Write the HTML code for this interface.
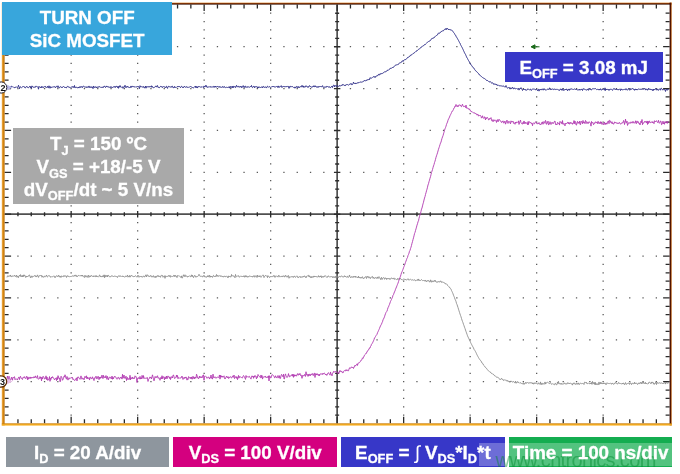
<!DOCTYPE html>
<html><head><meta charset="utf-8"><title>Turn off SiC MOSFET</title>
<style>
html,body{margin:0;padding:0;background:#fff;}
body{width:680px;height:474px;position:relative;overflow:hidden;font-family:"Liberation Sans",sans-serif;}
.box{position:absolute;color:#fff;font-weight:bold;font-size:18.8px;text-align:center;white-space:nowrap;box-sizing:border-box;-webkit-text-stroke:0.3px #fff;}
.box sub{font-size:12.8px;vertical-align:baseline;position:relative;top:4.5px;line-height:0;}
.ln{z-index:3;position:absolute;left:0;right:0;text-align:center;line-height:20px;height:20px;}
#title{left:2px;top:2.1px;width:170.4px;height:52.6px;background:#38a6dc;}
#cond{left:13.2px;top:128.2px;width:170.6px;height:75.8px;background:#a9a9a9;}
#eoff{left:504.8px;top:51.8px;width:157.9px;height:29.9px;background:#3737c8;}
#b1{left:5.8px;top:436.8px;width:163.6px;height:30.3px;background:#8e969e;}
#b2{left:173.4px;top:436.8px;width:163.7px;height:30.3px;background:#d4007f;}
#b3{left:341.2px;top:436.8px;width:163.4px;height:30.3px;background:#3737c8;}
#b4{left:509px;top:436.8px;width:163.3px;height:30.3px;background:#14ad50;}
#wmband{z-index:1;position:absolute;left:479.3px;top:443px;width:193px;height:23.3px;background:rgba(255,255,255,0.27);}
#wm{z-index:2;position:absolute;left:495.6px;top:446.6px;width:178px;height:26px;line-height:26px;font-size:20px;color:rgba(0,135,45,0.45);white-space:nowrap;letter-spacing:-0.65px;}
.mk{position:absolute;font-size:9px;font-weight:bold;color:#111;line-height:10px;}
</style></head><body>
<svg width="680" height="474" viewBox="0 0 680 474" style="position:absolute;left:0;top:0">
<defs>
<linearGradient id="gt" x1="0" y1="0" x2="0" y2="1"><stop offset="0" stop-color="#dc9040"/><stop offset="0.38" stop-color="#8a3806"/><stop offset="1" stop-color="#2a0800"/></linearGradient>
<linearGradient id="gl" x1="0" y1="0" x2="1" y2="0"><stop offset="0" stop-color="#f0b050"/><stop offset="0.5" stop-color="#d98a14"/><stop offset="1" stop-color="#b86a00"/></linearGradient>
<linearGradient id="gr" x1="0" y1="0" x2="1" y2="0"><stop offset="0" stop-color="#360600"/><stop offset="0.6" stop-color="#5e1a00"/><stop offset="1" stop-color="#e89a48"/></linearGradient>
<linearGradient id="gb" x1="0" y1="0" x2="0" y2="1"><stop offset="0" stop-color="#c88010"/><stop offset="0.5" stop-color="#f0a820"/><stop offset="1" stop-color="#ffd070"/></linearGradient>
</defs>
<rect width="680" height="474" fill="#fff"/>
<path d="M70.50 13.22h1.3M70.50 21.60h1.3M70.50 29.97h1.3M70.50 38.35h1.3M70.50 46.72h1.3M70.50 55.09h1.3M70.50 63.47h1.3M70.50 71.84h1.3M70.50 80.22h1.3M70.50 88.59h1.3M70.50 96.96h1.3M70.50 105.34h1.3M70.50 113.71h1.3M70.50 122.09h1.3M70.50 130.46h1.3M70.50 138.83h1.3M70.50 147.21h1.3M70.50 155.58h1.3M70.50 163.96h1.3M70.50 172.33h1.3M70.50 180.70h1.3M70.50 189.08h1.3M70.50 197.45h1.3M70.50 205.83h1.3M70.50 214.20h1.3M70.50 222.57h1.3M70.50 230.95h1.3M70.50 239.32h1.3M70.50 247.70h1.3M70.50 256.07h1.3M70.50 264.44h1.3M70.50 272.82h1.3M70.50 281.19h1.3M70.50 289.57h1.3M70.50 297.94h1.3M70.50 306.31h1.3M70.50 314.69h1.3M70.50 323.06h1.3M70.50 331.44h1.3M70.50 339.81h1.3M70.50 348.18h1.3M70.50 356.56h1.3M70.50 364.93h1.3M70.50 373.31h1.3M70.50 381.68h1.3M70.50 390.05h1.3M70.50 398.43h1.3M70.50 406.80h1.3M70.50 415.18h1.3M137.00 13.22h1.3M137.00 21.60h1.3M137.00 29.97h1.3M137.00 38.35h1.3M137.00 46.72h1.3M137.00 55.09h1.3M137.00 63.47h1.3M137.00 71.84h1.3M137.00 80.22h1.3M137.00 88.59h1.3M137.00 96.96h1.3M137.00 105.34h1.3M137.00 113.71h1.3M137.00 122.09h1.3M137.00 130.46h1.3M137.00 138.83h1.3M137.00 147.21h1.3M137.00 155.58h1.3M137.00 163.96h1.3M137.00 172.33h1.3M137.00 180.70h1.3M137.00 189.08h1.3M137.00 197.45h1.3M137.00 205.83h1.3M137.00 214.20h1.3M137.00 222.57h1.3M137.00 230.95h1.3M137.00 239.32h1.3M137.00 247.70h1.3M137.00 256.07h1.3M137.00 264.44h1.3M137.00 272.82h1.3M137.00 281.19h1.3M137.00 289.57h1.3M137.00 297.94h1.3M137.00 306.31h1.3M137.00 314.69h1.3M137.00 323.06h1.3M137.00 331.44h1.3M137.00 339.81h1.3M137.00 348.18h1.3M137.00 356.56h1.3M137.00 364.93h1.3M137.00 373.31h1.3M137.00 381.68h1.3M137.00 390.05h1.3M137.00 398.43h1.3M137.00 406.80h1.3M137.00 415.18h1.3M203.50 13.22h1.3M203.50 21.60h1.3M203.50 29.97h1.3M203.50 38.35h1.3M203.50 46.72h1.3M203.50 55.09h1.3M203.50 63.47h1.3M203.50 71.84h1.3M203.50 80.22h1.3M203.50 88.59h1.3M203.50 96.96h1.3M203.50 105.34h1.3M203.50 113.71h1.3M203.50 122.09h1.3M203.50 130.46h1.3M203.50 138.83h1.3M203.50 147.21h1.3M203.50 155.58h1.3M203.50 163.96h1.3M203.50 172.33h1.3M203.50 180.70h1.3M203.50 189.08h1.3M203.50 197.45h1.3M203.50 205.83h1.3M203.50 214.20h1.3M203.50 222.57h1.3M203.50 230.95h1.3M203.50 239.32h1.3M203.50 247.70h1.3M203.50 256.07h1.3M203.50 264.44h1.3M203.50 272.82h1.3M203.50 281.19h1.3M203.50 289.57h1.3M203.50 297.94h1.3M203.50 306.31h1.3M203.50 314.69h1.3M203.50 323.06h1.3M203.50 331.44h1.3M203.50 339.81h1.3M203.50 348.18h1.3M203.50 356.56h1.3M203.50 364.93h1.3M203.50 373.31h1.3M203.50 381.68h1.3M203.50 390.05h1.3M203.50 398.43h1.3M203.50 406.80h1.3M203.50 415.18h1.3M270.00 13.22h1.3M270.00 21.60h1.3M270.00 29.97h1.3M270.00 38.35h1.3M270.00 46.72h1.3M270.00 55.09h1.3M270.00 63.47h1.3M270.00 71.84h1.3M270.00 80.22h1.3M270.00 88.59h1.3M270.00 96.96h1.3M270.00 105.34h1.3M270.00 113.71h1.3M270.00 122.09h1.3M270.00 130.46h1.3M270.00 138.83h1.3M270.00 147.21h1.3M270.00 155.58h1.3M270.00 163.96h1.3M270.00 172.33h1.3M270.00 180.70h1.3M270.00 189.08h1.3M270.00 197.45h1.3M270.00 205.83h1.3M270.00 214.20h1.3M270.00 222.57h1.3M270.00 230.95h1.3M270.00 239.32h1.3M270.00 247.70h1.3M270.00 256.07h1.3M270.00 264.44h1.3M270.00 272.82h1.3M270.00 281.19h1.3M270.00 289.57h1.3M270.00 297.94h1.3M270.00 306.31h1.3M270.00 314.69h1.3M270.00 323.06h1.3M270.00 331.44h1.3M270.00 339.81h1.3M270.00 348.18h1.3M270.00 356.56h1.3M270.00 364.93h1.3M270.00 373.31h1.3M270.00 381.68h1.3M270.00 390.05h1.3M270.00 398.43h1.3M270.00 406.80h1.3M270.00 415.18h1.3M403.00 13.22h1.3M403.00 21.60h1.3M403.00 29.97h1.3M403.00 38.35h1.3M403.00 46.72h1.3M403.00 55.09h1.3M403.00 63.47h1.3M403.00 71.84h1.3M403.00 80.22h1.3M403.00 88.59h1.3M403.00 96.96h1.3M403.00 105.34h1.3M403.00 113.71h1.3M403.00 122.09h1.3M403.00 130.46h1.3M403.00 138.83h1.3M403.00 147.21h1.3M403.00 155.58h1.3M403.00 163.96h1.3M403.00 172.33h1.3M403.00 180.70h1.3M403.00 189.08h1.3M403.00 197.45h1.3M403.00 205.83h1.3M403.00 214.20h1.3M403.00 222.57h1.3M403.00 230.95h1.3M403.00 239.32h1.3M403.00 247.70h1.3M403.00 256.07h1.3M403.00 264.44h1.3M403.00 272.82h1.3M403.00 281.19h1.3M403.00 289.57h1.3M403.00 297.94h1.3M403.00 306.31h1.3M403.00 314.69h1.3M403.00 323.06h1.3M403.00 331.44h1.3M403.00 339.81h1.3M403.00 348.18h1.3M403.00 356.56h1.3M403.00 364.93h1.3M403.00 373.31h1.3M403.00 381.68h1.3M403.00 390.05h1.3M403.00 398.43h1.3M403.00 406.80h1.3M403.00 415.18h1.3M469.50 13.22h1.3M469.50 21.60h1.3M469.50 29.97h1.3M469.50 38.35h1.3M469.50 46.72h1.3M469.50 55.09h1.3M469.50 63.47h1.3M469.50 71.84h1.3M469.50 80.22h1.3M469.50 88.59h1.3M469.50 96.96h1.3M469.50 105.34h1.3M469.50 113.71h1.3M469.50 122.09h1.3M469.50 130.46h1.3M469.50 138.83h1.3M469.50 147.21h1.3M469.50 155.58h1.3M469.50 163.96h1.3M469.50 172.33h1.3M469.50 180.70h1.3M469.50 189.08h1.3M469.50 197.45h1.3M469.50 205.83h1.3M469.50 214.20h1.3M469.50 222.57h1.3M469.50 230.95h1.3M469.50 239.32h1.3M469.50 247.70h1.3M469.50 256.07h1.3M469.50 264.44h1.3M469.50 272.82h1.3M469.50 281.19h1.3M469.50 289.57h1.3M469.50 297.94h1.3M469.50 306.31h1.3M469.50 314.69h1.3M469.50 323.06h1.3M469.50 331.44h1.3M469.50 339.81h1.3M469.50 348.18h1.3M469.50 356.56h1.3M469.50 364.93h1.3M469.50 373.31h1.3M469.50 381.68h1.3M469.50 390.05h1.3M469.50 398.43h1.3M469.50 406.80h1.3M469.50 415.18h1.3M536.00 13.22h1.3M536.00 21.60h1.3M536.00 29.97h1.3M536.00 38.35h1.3M536.00 46.72h1.3M536.00 55.09h1.3M536.00 63.47h1.3M536.00 71.84h1.3M536.00 80.22h1.3M536.00 88.59h1.3M536.00 96.96h1.3M536.00 105.34h1.3M536.00 113.71h1.3M536.00 122.09h1.3M536.00 130.46h1.3M536.00 138.83h1.3M536.00 147.21h1.3M536.00 155.58h1.3M536.00 163.96h1.3M536.00 172.33h1.3M536.00 180.70h1.3M536.00 189.08h1.3M536.00 197.45h1.3M536.00 205.83h1.3M536.00 214.20h1.3M536.00 222.57h1.3M536.00 230.95h1.3M536.00 239.32h1.3M536.00 247.70h1.3M536.00 256.07h1.3M536.00 264.44h1.3M536.00 272.82h1.3M536.00 281.19h1.3M536.00 289.57h1.3M536.00 297.94h1.3M536.00 306.31h1.3M536.00 314.69h1.3M536.00 323.06h1.3M536.00 331.44h1.3M536.00 339.81h1.3M536.00 348.18h1.3M536.00 356.56h1.3M536.00 364.93h1.3M536.00 373.31h1.3M536.00 381.68h1.3M536.00 390.05h1.3M536.00 398.43h1.3M536.00 406.80h1.3M536.00 415.18h1.3M602.50 13.22h1.3M602.50 21.60h1.3M602.50 29.97h1.3M602.50 38.35h1.3M602.50 46.72h1.3M602.50 55.09h1.3M602.50 63.47h1.3M602.50 71.84h1.3M602.50 80.22h1.3M602.50 88.59h1.3M602.50 96.96h1.3M602.50 105.34h1.3M602.50 113.71h1.3M602.50 122.09h1.3M602.50 130.46h1.3M602.50 138.83h1.3M602.50 147.21h1.3M602.50 155.58h1.3M602.50 163.96h1.3M602.50 172.33h1.3M602.50 180.70h1.3M602.50 189.08h1.3M602.50 197.45h1.3M602.50 205.83h1.3M602.50 214.20h1.3M602.50 222.57h1.3M602.50 230.95h1.3M602.50 239.32h1.3M602.50 247.70h1.3M602.50 256.07h1.3M602.50 264.44h1.3M602.50 272.82h1.3M602.50 281.19h1.3M602.50 289.57h1.3M602.50 297.94h1.3M602.50 306.31h1.3M602.50 314.69h1.3M602.50 323.06h1.3M602.50 331.44h1.3M602.50 339.81h1.3M602.50 348.18h1.3M602.50 356.56h1.3M602.50 364.93h1.3M602.50 373.31h1.3M602.50 381.68h1.3M602.50 390.05h1.3M602.50 398.43h1.3M602.50 406.80h1.3M602.50 415.18h1.3M17.30 46.72h1.3M30.60 46.72h1.3M43.90 46.72h1.3M57.20 46.72h1.3M83.80 46.72h1.3M97.10 46.72h1.3M110.40 46.72h1.3M123.70 46.72h1.3M150.30 46.72h1.3M163.60 46.72h1.3M176.90 46.72h1.3M190.20 46.72h1.3M216.80 46.72h1.3M230.10 46.72h1.3M243.40 46.72h1.3M256.70 46.72h1.3M283.30 46.72h1.3M296.60 46.72h1.3M309.90 46.72h1.3M323.20 46.72h1.3M349.80 46.72h1.3M363.10 46.72h1.3M376.40 46.72h1.3M389.70 46.72h1.3M416.30 46.72h1.3M429.60 46.72h1.3M442.90 46.72h1.3M456.20 46.72h1.3M482.80 46.72h1.3M496.10 46.72h1.3M509.40 46.72h1.3M522.70 46.72h1.3M549.30 46.72h1.3M562.60 46.72h1.3M575.90 46.72h1.3M589.20 46.72h1.3M615.80 46.72h1.3M629.10 46.72h1.3M642.40 46.72h1.3M655.70 46.72h1.3M17.30 88.59h1.3M30.60 88.59h1.3M43.90 88.59h1.3M57.20 88.59h1.3M83.80 88.59h1.3M97.10 88.59h1.3M110.40 88.59h1.3M123.70 88.59h1.3M150.30 88.59h1.3M163.60 88.59h1.3M176.90 88.59h1.3M190.20 88.59h1.3M216.80 88.59h1.3M230.10 88.59h1.3M243.40 88.59h1.3M256.70 88.59h1.3M283.30 88.59h1.3M296.60 88.59h1.3M309.90 88.59h1.3M323.20 88.59h1.3M349.80 88.59h1.3M363.10 88.59h1.3M376.40 88.59h1.3M389.70 88.59h1.3M416.30 88.59h1.3M429.60 88.59h1.3M442.90 88.59h1.3M456.20 88.59h1.3M482.80 88.59h1.3M496.10 88.59h1.3M509.40 88.59h1.3M522.70 88.59h1.3M549.30 88.59h1.3M562.60 88.59h1.3M575.90 88.59h1.3M589.20 88.59h1.3M615.80 88.59h1.3M629.10 88.59h1.3M642.40 88.59h1.3M655.70 88.59h1.3M17.30 130.46h1.3M30.60 130.46h1.3M43.90 130.46h1.3M57.20 130.46h1.3M83.80 130.46h1.3M97.10 130.46h1.3M110.40 130.46h1.3M123.70 130.46h1.3M150.30 130.46h1.3M163.60 130.46h1.3M176.90 130.46h1.3M190.20 130.46h1.3M216.80 130.46h1.3M230.10 130.46h1.3M243.40 130.46h1.3M256.70 130.46h1.3M283.30 130.46h1.3M296.60 130.46h1.3M309.90 130.46h1.3M323.20 130.46h1.3M349.80 130.46h1.3M363.10 130.46h1.3M376.40 130.46h1.3M389.70 130.46h1.3M416.30 130.46h1.3M429.60 130.46h1.3M442.90 130.46h1.3M456.20 130.46h1.3M482.80 130.46h1.3M496.10 130.46h1.3M509.40 130.46h1.3M522.70 130.46h1.3M549.30 130.46h1.3M562.60 130.46h1.3M575.90 130.46h1.3M589.20 130.46h1.3M615.80 130.46h1.3M629.10 130.46h1.3M642.40 130.46h1.3M655.70 130.46h1.3M17.30 172.33h1.3M30.60 172.33h1.3M43.90 172.33h1.3M57.20 172.33h1.3M83.80 172.33h1.3M97.10 172.33h1.3M110.40 172.33h1.3M123.70 172.33h1.3M150.30 172.33h1.3M163.60 172.33h1.3M176.90 172.33h1.3M190.20 172.33h1.3M216.80 172.33h1.3M230.10 172.33h1.3M243.40 172.33h1.3M256.70 172.33h1.3M283.30 172.33h1.3M296.60 172.33h1.3M309.90 172.33h1.3M323.20 172.33h1.3M349.80 172.33h1.3M363.10 172.33h1.3M376.40 172.33h1.3M389.70 172.33h1.3M416.30 172.33h1.3M429.60 172.33h1.3M442.90 172.33h1.3M456.20 172.33h1.3M482.80 172.33h1.3M496.10 172.33h1.3M509.40 172.33h1.3M522.70 172.33h1.3M549.30 172.33h1.3M562.60 172.33h1.3M575.90 172.33h1.3M589.20 172.33h1.3M615.80 172.33h1.3M629.10 172.33h1.3M642.40 172.33h1.3M655.70 172.33h1.3M17.30 256.07h1.3M30.60 256.07h1.3M43.90 256.07h1.3M57.20 256.07h1.3M83.80 256.07h1.3M97.10 256.07h1.3M110.40 256.07h1.3M123.70 256.07h1.3M150.30 256.07h1.3M163.60 256.07h1.3M176.90 256.07h1.3M190.20 256.07h1.3M216.80 256.07h1.3M230.10 256.07h1.3M243.40 256.07h1.3M256.70 256.07h1.3M283.30 256.07h1.3M296.60 256.07h1.3M309.90 256.07h1.3M323.20 256.07h1.3M349.80 256.07h1.3M363.10 256.07h1.3M376.40 256.07h1.3M389.70 256.07h1.3M416.30 256.07h1.3M429.60 256.07h1.3M442.90 256.07h1.3M456.20 256.07h1.3M482.80 256.07h1.3M496.10 256.07h1.3M509.40 256.07h1.3M522.70 256.07h1.3M549.30 256.07h1.3M562.60 256.07h1.3M575.90 256.07h1.3M589.20 256.07h1.3M615.80 256.07h1.3M629.10 256.07h1.3M642.40 256.07h1.3M655.70 256.07h1.3M17.30 297.94h1.3M30.60 297.94h1.3M43.90 297.94h1.3M57.20 297.94h1.3M83.80 297.94h1.3M97.10 297.94h1.3M110.40 297.94h1.3M123.70 297.94h1.3M150.30 297.94h1.3M163.60 297.94h1.3M176.90 297.94h1.3M190.20 297.94h1.3M216.80 297.94h1.3M230.10 297.94h1.3M243.40 297.94h1.3M256.70 297.94h1.3M283.30 297.94h1.3M296.60 297.94h1.3M309.90 297.94h1.3M323.20 297.94h1.3M349.80 297.94h1.3M363.10 297.94h1.3M376.40 297.94h1.3M389.70 297.94h1.3M416.30 297.94h1.3M429.60 297.94h1.3M442.90 297.94h1.3M456.20 297.94h1.3M482.80 297.94h1.3M496.10 297.94h1.3M509.40 297.94h1.3M522.70 297.94h1.3M549.30 297.94h1.3M562.60 297.94h1.3M575.90 297.94h1.3M589.20 297.94h1.3M615.80 297.94h1.3M629.10 297.94h1.3M642.40 297.94h1.3M655.70 297.94h1.3M17.30 339.81h1.3M30.60 339.81h1.3M43.90 339.81h1.3M57.20 339.81h1.3M83.80 339.81h1.3M97.10 339.81h1.3M110.40 339.81h1.3M123.70 339.81h1.3M150.30 339.81h1.3M163.60 339.81h1.3M176.90 339.81h1.3M190.20 339.81h1.3M216.80 339.81h1.3M230.10 339.81h1.3M243.40 339.81h1.3M256.70 339.81h1.3M283.30 339.81h1.3M296.60 339.81h1.3M309.90 339.81h1.3M323.20 339.81h1.3M349.80 339.81h1.3M363.10 339.81h1.3M376.40 339.81h1.3M389.70 339.81h1.3M416.30 339.81h1.3M429.60 339.81h1.3M442.90 339.81h1.3M456.20 339.81h1.3M482.80 339.81h1.3M496.10 339.81h1.3M509.40 339.81h1.3M522.70 339.81h1.3M549.30 339.81h1.3M562.60 339.81h1.3M575.90 339.81h1.3M589.20 339.81h1.3M615.80 339.81h1.3M629.10 339.81h1.3M642.40 339.81h1.3M655.70 339.81h1.3M17.30 381.68h1.3M30.60 381.68h1.3M43.90 381.68h1.3M57.20 381.68h1.3M83.80 381.68h1.3M97.10 381.68h1.3M110.40 381.68h1.3M123.70 381.68h1.3M150.30 381.68h1.3M163.60 381.68h1.3M176.90 381.68h1.3M190.20 381.68h1.3M216.80 381.68h1.3M230.10 381.68h1.3M243.40 381.68h1.3M256.70 381.68h1.3M283.30 381.68h1.3M296.60 381.68h1.3M309.90 381.68h1.3M323.20 381.68h1.3M349.80 381.68h1.3M363.10 381.68h1.3M376.40 381.68h1.3M389.70 381.68h1.3M416.30 381.68h1.3M429.60 381.68h1.3M442.90 381.68h1.3M456.20 381.68h1.3M482.80 381.68h1.3M496.10 381.68h1.3M509.40 381.68h1.3M522.70 381.68h1.3M549.30 381.68h1.3M562.60 381.68h1.3M575.90 381.68h1.3M589.20 381.68h1.3M615.80 381.68h1.3M629.10 381.68h1.3M642.40 381.68h1.3M655.70 381.68h1.3" stroke="#5a5a5a" stroke-width="1.3" fill="none"/>
<path d="M4.649999999999977 214.2H669.65M337.15 4.849999999999994V423.54999999999995" stroke="#505050" stroke-width="1.7" fill="none"/>
<path d="M17.95 212.20v4.00M31.25 212.20v4.00M44.55 212.20v4.00M57.85 212.20v4.00M71.15 211.00v6.40M84.45 212.20v4.00M97.75 212.20v4.00M111.05 212.20v4.00M124.35 212.20v4.00M137.65 211.00v6.40M150.95 212.20v4.00M164.25 212.20v4.00M177.55 212.20v4.00M190.85 212.20v4.00M204.15 211.00v6.40M217.45 212.20v4.00M230.75 212.20v4.00M244.05 212.20v4.00M257.35 212.20v4.00M270.65 211.00v6.40M283.95 212.20v4.00M297.25 212.20v4.00M310.55 212.20v4.00M323.85 212.20v4.00M337.15 211.00v6.40M350.45 212.20v4.00M363.75 212.20v4.00M377.05 212.20v4.00M390.35 212.20v4.00M403.65 211.00v6.40M416.95 212.20v4.00M430.25 212.20v4.00M443.55 212.20v4.00M456.85 212.20v4.00M470.15 211.00v6.40M483.45 212.20v4.00M496.75 212.20v4.00M510.05 212.20v4.00M523.35 212.20v4.00M536.65 211.00v6.40M549.95 212.20v4.00M563.25 212.20v4.00M576.55 212.20v4.00M589.85 212.20v4.00M603.15 211.00v6.40M616.45 212.20v4.00M629.75 212.20v4.00M643.05 212.20v4.00M656.35 212.20v4.00M335.15 13.22h4.00M335.15 21.60h4.00M335.15 29.97h4.00M335.15 38.35h4.00M333.95 46.72h6.40M335.15 55.09h4.00M335.15 63.47h4.00M335.15 71.84h4.00M335.15 80.22h4.00M333.95 88.59h6.40M335.15 96.96h4.00M335.15 105.34h4.00M335.15 113.71h4.00M335.15 122.09h4.00M333.95 130.46h6.40M335.15 138.83h4.00M335.15 147.21h4.00M335.15 155.58h4.00M335.15 163.96h4.00M333.95 172.33h6.40M335.15 180.70h4.00M335.15 189.08h4.00M335.15 197.45h4.00M335.15 205.83h4.00M333.95 214.20h6.40M335.15 222.57h4.00M335.15 230.95h4.00M335.15 239.32h4.00M335.15 247.70h4.00M333.95 256.07h6.40M335.15 264.44h4.00M335.15 272.82h4.00M335.15 281.19h4.00M335.15 289.57h4.00M333.95 297.94h6.40M335.15 306.31h4.00M335.15 314.69h4.00M335.15 323.06h4.00M335.15 331.44h4.00M333.95 339.81h6.40M335.15 348.18h4.00M335.15 356.56h4.00M335.15 364.93h4.00M335.15 373.31h4.00M333.95 381.68h6.40M335.15 390.05h4.00M335.15 398.43h4.00M335.15 406.80h4.00M335.15 415.18h4.00" stroke="#2c2c2c" stroke-width="1.35" fill="none"/>
<path d="M17.95 4.6v4.0M17.95 423.3v-4.0M31.25 4.6v4.0M31.25 423.3v-4.0M44.55 4.6v4.0M44.55 423.3v-4.0M57.85 4.6v4.0M57.85 423.3v-4.0M71.15 4.6v6.5M71.15 423.3v-6.5M84.45 4.6v4.0M84.45 423.3v-4.0M97.75 4.6v4.0M97.75 423.3v-4.0M111.05 4.6v4.0M111.05 423.3v-4.0M124.35 4.6v4.0M124.35 423.3v-4.0M137.65 4.6v6.5M137.65 423.3v-6.5M150.95 4.6v4.0M150.95 423.3v-4.0M164.25 4.6v4.0M164.25 423.3v-4.0M177.55 4.6v4.0M177.55 423.3v-4.0M190.85 4.6v4.0M190.85 423.3v-4.0M204.15 4.6v6.5M204.15 423.3v-6.5M217.45 4.6v4.0M217.45 423.3v-4.0M230.75 4.6v4.0M230.75 423.3v-4.0M244.05 4.6v4.0M244.05 423.3v-4.0M257.35 4.6v4.0M257.35 423.3v-4.0M270.65 4.6v6.5M270.65 423.3v-6.5M283.95 4.6v4.0M283.95 423.3v-4.0M297.25 4.6v4.0M297.25 423.3v-4.0M310.55 4.6v4.0M310.55 423.3v-4.0M323.85 4.6v4.0M323.85 423.3v-4.0M337.15 4.6v6.5M337.15 423.3v-6.5M350.45 4.6v4.0M350.45 423.3v-4.0M363.75 4.6v4.0M363.75 423.3v-4.0M377.05 4.6v4.0M377.05 423.3v-4.0M390.35 4.6v4.0M390.35 423.3v-4.0M403.65 4.6v6.5M403.65 423.3v-6.5M416.95 4.6v4.0M416.95 423.3v-4.0M430.25 4.6v4.0M430.25 423.3v-4.0M443.55 4.6v4.0M443.55 423.3v-4.0M456.85 4.6v4.0M456.85 423.3v-4.0M470.15 4.6v6.5M470.15 423.3v-6.5M483.45 4.6v4.0M483.45 423.3v-4.0M496.75 4.6v4.0M496.75 423.3v-4.0M510.05 4.6v4.0M510.05 423.3v-4.0M523.35 4.6v4.0M523.35 423.3v-4.0M536.65 4.6v6.5M536.65 423.3v-6.5M549.95 4.6v4.0M549.95 423.3v-4.0M563.25 4.6v4.0M563.25 423.3v-4.0M576.55 4.6v4.0M576.55 423.3v-4.0M589.85 4.6v4.0M589.85 423.3v-4.0M603.15 4.6v6.5M603.15 423.3v-6.5M616.45 4.6v4.0M616.45 423.3v-4.0M629.75 4.6v4.0M629.75 423.3v-4.0M643.05 4.6v4.0M643.05 423.3v-4.0M656.35 4.6v4.0M656.35 423.3v-4.0M4.6 13.22h4.0M669.6 13.22h-4.0M4.6 21.60h4.0M669.6 21.60h-4.0M4.6 29.97h4.0M669.6 29.97h-4.0M4.6 38.35h4.0M669.6 38.35h-4.0M4.6 46.72h6.5M669.6 46.72h-6.5M4.6 55.09h4.0M669.6 55.09h-4.0M4.6 63.47h4.0M669.6 63.47h-4.0M4.6 71.84h4.0M669.6 71.84h-4.0M4.6 80.22h4.0M669.6 80.22h-4.0M4.6 88.59h6.5M669.6 88.59h-6.5M4.6 96.96h4.0M669.6 96.96h-4.0M4.6 105.34h4.0M669.6 105.34h-4.0M4.6 113.71h4.0M669.6 113.71h-4.0M4.6 122.09h4.0M669.6 122.09h-4.0M4.6 130.46h6.5M669.6 130.46h-6.5M4.6 138.83h4.0M669.6 138.83h-4.0M4.6 147.21h4.0M669.6 147.21h-4.0M4.6 155.58h4.0M669.6 155.58h-4.0M4.6 163.96h4.0M669.6 163.96h-4.0M4.6 172.33h6.5M669.6 172.33h-6.5M4.6 180.70h4.0M669.6 180.70h-4.0M4.6 189.08h4.0M669.6 189.08h-4.0M4.6 197.45h4.0M669.6 197.45h-4.0M4.6 205.83h4.0M669.6 205.83h-4.0M4.6 214.20h6.5M669.6 214.20h-6.5M4.6 222.57h4.0M669.6 222.57h-4.0M4.6 230.95h4.0M669.6 230.95h-4.0M4.6 239.32h4.0M669.6 239.32h-4.0M4.6 247.70h4.0M669.6 247.70h-4.0M4.6 256.07h6.5M669.6 256.07h-6.5M4.6 264.44h4.0M669.6 264.44h-4.0M4.6 272.82h4.0M669.6 272.82h-4.0M4.6 281.19h4.0M669.6 281.19h-4.0M4.6 289.57h4.0M669.6 289.57h-4.0M4.6 297.94h6.5M669.6 297.94h-6.5M4.6 306.31h4.0M669.6 306.31h-4.0M4.6 314.69h4.0M669.6 314.69h-4.0M4.6 323.06h4.0M669.6 323.06h-4.0M4.6 331.44h4.0M669.6 331.44h-4.0M4.6 339.81h6.5M669.6 339.81h-6.5M4.6 348.18h4.0M669.6 348.18h-4.0M4.6 356.56h4.0M669.6 356.56h-4.0M4.6 364.93h4.0M669.6 364.93h-4.0M4.6 373.31h4.0M669.6 373.31h-4.0M4.6 381.68h6.5M669.6 381.68h-6.5M4.6 390.05h4.0M669.6 390.05h-4.0M4.6 398.43h4.0M669.6 398.43h-4.0M4.6 406.80h4.0M669.6 406.80h-4.0M4.6 415.18h4.0M669.6 415.18h-4.0" stroke="#2a2a2a" stroke-width="1.3" fill="none"/>
<path d="M7.0 277.38 L7.5 275.87 L8.0 276.22 L8.5 276.49 L9.0 275.65 L9.5 276.20 L10.0 276.20 L10.5 274.98 L11.0 276.91 L11.5 276.62 L12.0 275.77 L12.5 276.08 L13.0 276.56 L13.5 276.02 L14.0 276.03 L14.5 275.19 L15.0 276.59 L15.5 276.29 L16.0 276.40 L16.5 275.14 L17.0 277.36 L17.5 276.32 L18.0 275.94 L18.5 277.63 L19.0 276.18 L19.5 275.19 L20.0 275.93 L20.5 274.61 L21.0 276.94 L21.5 275.92 L22.0 275.69 L22.5 276.96 L23.0 275.06 L23.5 276.59 L24.0 274.77 L24.5 275.75 L25.0 275.37 L25.5 277.24 L26.0 277.45 L26.5 275.98 L27.0 276.80 L27.5 276.09 L28.0 276.61 L28.5 275.69 L29.0 275.02 L29.5 274.96 L30.0 276.48 L30.5 277.79 L31.0 276.41 L31.5 275.85 L32.0 277.55 L32.5 276.38 L33.0 276.29 L33.5 276.40 L34.0 276.13 L34.5 276.00 L35.0 275.22 L35.5 276.57 L36.0 276.15 L36.5 277.06 L37.0 275.96 L37.5 274.89 L38.0 276.15 L38.5 277.41 L39.0 275.96 L39.5 275.60 L40.0 275.39 L40.5 275.49 L41.0 276.02 L41.5 275.40 L42.0 277.27 L42.5 276.03 L43.0 276.30 L43.5 277.23 L44.0 277.28 L44.5 276.08 L45.0 276.46 L45.5 276.74 L46.0 276.09 L46.5 274.99 L47.0 276.69 L47.5 276.86 L48.0 276.52 L48.5 275.59 L49.0 276.09 L49.5 275.82 L50.0 276.02 L50.5 277.14 L51.0 277.30 L51.5 276.70 L52.0 276.62 L52.5 276.71 L53.0 276.23 L53.5 276.18 L54.0 275.77 L54.5 276.20 L55.0 277.82 L55.5 276.84 L56.0 276.00 L56.5 275.91 L57.0 275.63 L57.5 276.50 L58.0 276.51 L58.5 275.23 L59.0 276.58 L59.5 275.84 L60.0 277.24 L60.5 276.35 L61.0 277.44 L61.5 275.92 L62.0 276.04 L62.5 276.45 L63.0 276.98 L63.5 276.64 L64.0 275.38 L64.5 276.37 L65.0 276.26 L65.5 275.95 L66.0 275.79 L66.5 277.47 L67.0 275.97 L67.5 275.66 L68.0 276.69 L68.5 276.34 L69.0 276.20 L69.5 276.80 L70.0 276.59 L70.5 276.50 L71.0 276.93 L71.5 276.45 L72.0 275.82 L72.5 276.00 L73.0 275.89 L73.5 276.40 L74.0 275.50 L74.5 274.97 L75.0 276.32 L75.5 275.32 L76.0 274.89 L76.5 276.52 L77.0 275.76 L77.5 276.60 L78.0 275.89 L78.5 275.47 L79.0 275.39 L79.5 275.90 L80.0 276.07 L80.5 275.69 L81.0 276.06 L81.5 275.19 L82.0 276.27 L82.5 275.01 L83.0 276.13 L83.5 276.75 L84.0 277.03 L84.5 277.46 L85.0 275.18 L85.5 276.80 L86.0 277.11 L86.5 276.95 L87.0 275.62 L87.5 276.56 L88.0 277.57 L88.5 275.22 L89.0 276.60 L89.5 277.05 L90.0 275.78 L90.5 276.68 L91.0 275.52 L91.5 275.70 L92.0 275.70 L92.5 276.41 L93.0 276.21 L93.5 276.94 L94.0 275.62 L94.5 276.18 L95.0 276.95 L95.5 276.67 L96.0 275.35 L96.5 276.74 L97.0 275.94 L97.5 276.55 L98.0 276.49 L98.5 277.13 L99.0 276.36 L99.5 274.98 L100.0 275.32 L100.5 276.79 L101.0 276.10 L101.5 277.08 L102.0 276.47 L102.5 275.76 L103.0 277.04 L103.5 275.72 L104.0 274.85 L104.5 277.73 L105.0 274.95 L105.5 276.73 L106.0 276.94 L106.5 276.39 L107.0 275.11 L107.5 277.00 L108.0 275.28 L108.5 275.35 L109.0 276.04 L109.5 276.84 L110.0 276.50 L110.5 276.86 L111.0 275.98 L111.5 276.17 L112.0 275.50 L112.5 276.07 L113.0 276.71 L113.5 276.09 L114.0 276.63 L114.5 275.90 L115.0 275.88 L115.5 276.32 L116.0 276.16 L116.5 276.71 L117.0 276.42 L117.5 277.52 L118.0 276.15 L118.5 276.14 L119.0 275.57 L119.5 276.32 L120.0 276.78 L120.5 275.79 L121.0 276.27 L121.5 276.81 L122.0 276.22 L122.5 275.94 L123.0 276.99 L123.5 276.37 L124.0 276.58 L124.5 277.13 L125.0 277.11 L125.5 276.07 L126.0 275.94 L126.5 276.51 L127.0 276.22 L127.5 274.98 L128.0 277.20 L128.5 276.33 L129.0 276.83 L129.5 275.49 L130.0 277.21 L130.5 275.90 L131.0 276.24 L131.5 275.34 L132.0 276.20 L132.5 276.16 L133.0 276.19 L133.5 276.62 L134.0 276.36 L134.5 277.00 L135.0 275.99 L135.5 275.62 L136.0 276.31 L136.5 276.76 L137.0 277.19 L137.5 276.89 L138.0 275.09 L138.5 276.59 L139.0 277.34 L139.5 276.37 L140.0 275.96 L140.5 276.54 L141.0 275.97 L141.5 276.77 L142.0 276.32 L142.5 277.30 L143.0 276.68 L143.5 275.82 L144.0 276.75 L144.5 276.98 L145.0 275.93 L145.5 276.03 L146.0 274.72 L146.5 276.96 L147.0 275.92 L147.5 274.85 L148.0 275.10 L148.5 276.18 L149.0 276.87 L149.5 276.27 L150.0 276.67 L150.5 275.57 L151.0 275.40 L151.5 276.96 L152.0 276.68 L152.5 276.32 L153.0 277.24 L153.5 275.68 L154.0 276.05 L154.5 277.06 L155.0 277.63 L155.5 276.35 L156.0 277.52 L156.5 275.92 L157.0 276.58 L157.5 276.22 L158.0 275.24 L158.5 276.53 L159.0 277.00 L159.5 276.25 L160.0 276.30 L160.5 277.32 L161.0 275.48 L161.5 275.30 L162.0 275.89 L162.5 275.52 L163.0 277.29 L163.5 276.57 L164.0 275.75 L164.5 275.93 L165.0 278.35 L165.5 275.93 L166.0 275.82 L166.5 276.57 L167.0 276.80 L167.5 276.51 L168.0 275.72 L168.5 275.55 L169.0 276.78 L169.5 276.32 L170.0 275.21 L170.5 277.18 L171.0 276.90 L171.5 276.20 L172.0 276.18 L172.5 276.53 L173.0 275.89 L173.5 275.42 L174.0 276.59 L174.5 275.36 L175.0 276.64 L175.5 275.36 L176.0 276.30 L176.5 276.28 L177.0 277.62 L177.5 275.63 L178.0 275.38 L178.5 275.92 L179.0 275.59 L179.5 275.96 L180.0 276.67 L180.5 276.91 L181.0 277.54 L181.5 275.86 L182.0 278.22 L182.5 277.76 L183.0 276.24 L183.5 274.78 L184.0 276.32 L184.5 276.43 L185.0 274.77 L185.5 276.43 L186.0 276.24 L186.5 275.83 L187.0 276.82 L187.5 277.09 L188.0 276.04 L188.5 276.55 L189.0 275.93 L189.5 275.84 L190.0 276.44 L190.5 276.75 L191.0 275.99 L191.5 274.84 L192.0 276.80 L192.5 275.27 L193.0 276.48 L193.5 277.63 L194.0 276.38 L194.5 275.56 L195.0 275.37 L195.5 277.21 L196.0 276.38 L196.5 276.77 L197.0 277.04 L197.5 276.36 L198.0 276.18 L198.5 275.74 L199.0 274.25 L199.5 275.34 L200.0 276.35 L200.5 276.28 L201.0 276.68 L201.5 276.31 L202.0 276.51 L202.5 276.95 L203.0 275.79 L203.5 276.20 L204.0 275.28 L204.5 277.09 L205.0 276.43 L205.5 276.75 L206.0 277.49 L206.5 277.16 L207.0 276.37 L207.5 276.96 L208.0 275.41 L208.5 276.71 L209.0 276.51 L209.5 275.28 L210.0 277.35 L210.5 275.92 L211.0 276.89 L211.5 276.12 L212.0 277.11 L212.5 277.33 L213.0 275.84 L213.5 275.35 L214.0 276.32 L214.5 277.01 L215.0 276.16 L215.5 275.99 L216.0 276.76 L216.5 274.49 L217.0 275.96 L217.5 275.45 L218.0 276.63 L218.5 275.91 L219.0 275.64 L219.5 276.18 L220.0 275.40 L220.5 276.41 L221.0 275.95 L221.5 276.16 L222.0 275.92 L222.5 277.06 L223.0 276.35 L223.5 276.79 L224.0 276.76 L224.5 275.86 L225.0 276.83 L225.5 276.67 L226.0 276.65 L226.5 276.15 L227.0 276.13 L227.5 276.98 L228.0 277.96 L228.5 275.85 L229.0 276.81 L229.5 276.18 L230.0 276.98 L230.5 276.74 L231.0 277.18 L231.5 274.48 L232.0 276.02 L232.5 275.75 L233.0 276.36 L233.5 275.93 L234.0 275.99 L234.5 276.91 L235.0 277.77 L235.5 274.47 L236.0 276.22 L236.5 276.66 L237.0 276.44 L237.5 276.20 L238.0 275.50 L238.5 275.78 L239.0 276.95 L239.5 277.20 L240.0 276.51 L240.5 275.86 L241.0 276.51 L241.5 276.28 L242.0 276.83 L242.5 276.53 L243.0 276.01 L243.5 276.58 L244.0 275.62 L244.5 277.02 L245.0 277.28 L245.5 275.63 L246.0 276.74 L246.5 275.76 L247.0 277.20 L247.5 277.08 L248.0 276.29 L248.5 277.15 L249.0 276.15 L249.5 276.00 L250.0 276.06 L250.5 276.36 L251.0 276.23 L251.5 276.56 L252.0 276.03 L252.5 276.99 L253.0 277.17 L253.5 276.11 L254.0 275.46 L254.5 276.97 L255.0 277.26 L255.5 276.35 L256.0 275.56 L256.5 276.65 L257.0 277.53 L257.5 275.15 L258.0 276.80 L258.5 276.25 L259.0 275.87 L259.5 276.81 L260.0 275.56 L260.5 276.67 L261.0 277.39 L261.5 276.59 L262.0 275.86 L262.5 275.23 L263.0 275.58 L263.5 275.19 L264.0 277.59 L264.5 276.30 L265.0 275.74 L265.5 275.57 L266.0 275.73 L266.5 276.24 L267.0 275.58 L267.5 277.65 L268.0 275.96 L268.5 275.93 L269.0 276.69 L269.5 277.49 L270.0 277.41 L270.5 276.14 L271.0 276.66 L271.5 276.59 L272.0 276.85 L272.5 276.66 L273.0 275.83 L273.5 275.61 L274.0 276.61 L274.5 275.66 L275.0 277.44 L275.5 276.52 L276.0 275.77 L276.5 276.27 L277.0 276.14 L277.5 276.40 L278.0 277.15 L278.5 275.49 L279.0 275.19 L279.5 276.73 L280.0 276.37 L280.5 276.61 L281.0 276.81 L281.5 276.37 L282.0 277.06 L282.5 275.88 L283.0 276.55 L283.5 275.92 L284.0 275.72 L284.5 276.94 L285.0 276.90 L285.5 275.15 L286.0 275.73 L286.5 276.71 L287.0 277.26 L287.5 276.05 L288.0 276.38 L288.5 275.53 L289.0 278.27 L289.5 276.85 L290.0 277.14 L290.5 276.98 L291.0 277.17 L291.5 276.94 L292.0 276.29 L292.5 277.04 L293.0 276.58 L293.5 277.43 L294.0 276.01 L294.5 276.15 L295.0 276.99 L295.5 277.42 L296.0 276.63 L296.5 276.03 L297.0 276.45 L297.5 276.19 L298.0 277.86 L298.5 277.16 L299.0 277.42 L299.5 276.75 L300.0 276.15 L300.5 277.36 L301.0 277.70 L301.5 276.95 L302.0 276.53 L302.5 277.30 L303.0 276.29 L303.5 277.08 L304.0 276.05 L304.5 275.88 L305.0 276.95 L305.5 276.79 L306.0 277.88 L306.5 276.36 L307.0 276.58 L307.5 275.77 L308.0 275.26 L308.5 275.32 L309.0 276.89 L309.5 275.75 L310.0 277.35 L310.5 277.56 L311.0 276.37 L311.5 277.73 L312.0 276.73 L312.5 277.36 L313.0 276.42 L313.5 277.25 L314.0 275.92 L314.5 277.02 L315.0 276.26 L315.5 276.49 L316.0 277.03 L316.5 276.71 L317.0 276.54 L317.5 277.10 L318.0 277.15 L318.5 275.63 L319.0 276.99 L319.5 277.07 L320.0 276.08 L320.5 276.87 L321.0 275.68 L321.5 277.61 L322.0 276.44 L322.5 276.56 L323.0 277.45 L323.5 276.52 L324.0 277.04 L324.5 275.90 L325.0 276.23 L325.5 275.67 L326.0 276.49 L326.5 277.35 L327.0 276.80 L327.5 277.26 L328.0 275.95 L328.5 276.05 L329.0 276.35 L329.5 277.07 L330.0 276.92 L330.5 276.67 L331.0 277.12 L331.5 276.59 L332.0 276.69 L332.5 277.60 L333.0 276.31 L333.5 276.85 L334.0 277.83 L334.5 276.81 L335.0 277.23 L335.5 276.34 L336.0 278.10 L336.5 275.23 L337.0 276.00 L337.5 276.06 L338.0 277.90 L338.5 277.04 L339.0 276.63 L339.5 275.94 L340.0 277.07 L340.5 276.91 L341.0 276.37 L341.5 275.83 L342.0 276.11 L342.5 277.01 L343.0 277.09 L343.5 276.94 L344.0 276.79 L344.5 275.70 L345.0 276.95 L345.5 276.22 L346.0 276.96 L346.5 277.26 L347.0 276.50 L347.5 276.27 L348.0 277.65 L348.5 277.23 L349.0 276.57 L349.5 274.97 L350.0 276.99 L350.5 277.46 L351.0 277.80 L351.5 276.59 L352.0 276.62 L352.5 276.77 L353.0 277.65 L353.5 276.30 L354.0 277.03 L354.5 276.49 L355.0 277.31 L355.5 276.09 L356.0 277.41 L356.5 276.83 L357.0 277.03 L357.5 277.55 L358.0 277.97 L358.5 276.09 L359.0 277.91 L359.5 277.63 L360.0 277.07 L360.5 278.22 L361.0 277.43 L361.5 278.18 L362.0 276.94 L362.5 276.78 L363.0 278.19 L363.5 278.83 L364.0 277.83 L364.5 278.02 L365.0 277.14 L365.5 276.59 L366.0 277.34 L366.5 278.50 L367.0 276.30 L367.5 277.22 L368.0 276.31 L368.5 277.66 L369.0 278.19 L369.5 276.82 L370.0 277.39 L370.5 278.55 L371.0 277.64 L371.5 276.91 L372.0 276.88 L372.5 276.45 L373.0 278.30 L373.5 277.33 L374.0 278.53 L374.5 278.43 L375.0 277.46 L375.5 277.57 L376.0 278.44 L376.5 278.06 L377.0 278.16 L377.5 276.93 L378.0 278.62 L378.5 277.49 L379.0 276.60 L379.5 277.70 L380.0 278.40 L380.5 279.52 L381.0 277.94 L381.5 277.34 L382.0 279.61 L382.5 278.36 L383.0 278.11 L383.5 277.60 L384.0 277.67 L384.5 279.32 L385.0 278.20 L385.5 278.05 L386.0 278.09 L386.5 279.47 L387.0 278.09 L387.5 278.91 L388.0 278.70 L388.5 278.71 L389.0 278.00 L389.5 279.03 L390.0 279.67 L390.5 278.62 L391.0 278.08 L391.5 277.87 L392.0 278.85 L392.5 278.58 L393.0 278.72 L393.5 278.82 L394.0 277.89 L394.5 279.37 L395.0 279.05 L395.5 278.88 L396.0 279.10 L396.5 279.58 L397.0 279.05 L397.5 278.49 L398.0 279.82 L398.5 278.82 L399.0 278.66 L399.5 278.15 L400.0 279.19 L400.5 278.54 L401.0 278.91 L401.5 279.57 L402.0 279.33 L402.5 279.99 L403.0 279.56 L403.5 279.14 L404.0 279.22 L404.5 279.14 L405.0 279.91 L405.5 279.54 L406.0 279.29 L406.5 280.13 L407.0 279.68 L407.5 279.35 L408.0 278.71 L408.5 279.99 L409.0 279.89 L409.5 279.81 L410.0 279.53 L410.5 279.30 L411.0 279.72 L411.5 280.05 L412.0 279.85 L412.5 279.87 L413.0 279.69 L413.5 280.24 L414.0 280.20 L414.5 279.60 L415.0 280.60 L415.5 280.65 L416.0 280.70 L416.5 280.13 L417.0 280.12 L417.5 279.53 L418.0 280.79 L418.5 278.96 L419.0 280.11 L419.5 280.17 L420.0 280.97 L420.5 280.45 L421.0 279.86 L421.5 279.59 L422.0 280.07 L422.5 280.64 L423.0 280.63 L423.5 280.49 L424.0 280.20 L424.5 280.53 L425.0 281.34 L425.5 279.99 L426.0 280.76 L426.5 281.82 L427.0 281.14 L427.5 280.50 L428.0 281.26 L428.5 280.35 L429.0 280.88 L429.5 281.91 L430.0 282.15 L430.5 279.83 L431.0 281.42 L431.5 282.26 L432.0 280.67 L432.5 281.22 L433.0 282.05 L433.5 280.80 L434.0 281.44 L434.5 281.15 L435.0 280.01 L435.5 281.48 L436.0 281.19 L436.5 281.92 L437.0 282.67 L437.5 281.86 L438.0 281.27 L438.5 281.81 L439.0 281.73 L439.5 282.26 L440.0 280.98 L440.5 281.25 L441.0 280.91 L441.5 282.41 L442.0 282.22 L442.5 282.05 L443.0 282.17 L443.5 282.41 L444.0 282.43 L444.5 282.90 L445.0 283.03 L445.5 284.02 L446.0 283.91 L446.5 283.89 L447.0 284.39 L447.5 285.37 L448.0 285.65 L448.5 286.15 L449.0 286.83 L449.5 287.65 L450.0 287.62 L450.5 288.47 L451.0 289.16 L451.5 290.55 L452.0 291.47 L452.5 292.58 L453.0 293.79 L453.5 295.26 L454.0 296.42 L454.5 297.65 L455.0 299.18 L455.5 300.15 L456.0 301.50 L456.5 303.43 L457.0 304.51 L457.5 306.00 L458.0 307.52 L458.5 309.15 L459.0 310.83 L459.5 312.40 L460.0 313.94 L460.5 315.38 L461.0 316.75 L461.5 318.47 L462.0 320.08 L462.5 321.47 L463.0 322.77 L463.5 324.37 L464.0 325.68 L464.5 327.18 L465.0 328.48 L465.5 330.03 L466.0 331.49 L466.5 332.82 L467.0 334.29 L467.5 335.74 L468.0 336.91 L468.5 337.85 L469.0 338.92 L469.5 340.03 L470.0 341.04 L470.5 342.25 L471.0 343.33 L471.5 344.28 L472.0 345.25 L472.5 346.20 L473.0 347.09 L473.5 347.91 L474.0 349.30 L474.5 350.10 L475.0 350.67 L475.5 351.61 L476.0 352.62 L476.5 353.68 L477.0 354.85 L477.5 355.74 L478.0 356.67 L478.5 357.57 L479.0 358.44 L479.5 359.18 L480.0 359.90 L480.5 360.51 L481.0 360.88 L481.5 361.96 L482.0 363.10 L482.5 363.27 L483.0 363.94 L483.5 364.99 L484.0 365.44 L484.5 365.95 L485.0 367.07 L485.5 367.46 L486.0 368.10 L486.5 368.34 L487.0 369.18 L487.5 369.70 L488.0 370.33 L488.5 370.95 L489.0 371.43 L489.5 371.62 L490.0 372.21 L490.5 372.07 L491.0 373.04 L491.5 373.46 L492.0 373.52 L492.5 373.78 L493.0 374.39 L493.5 374.38 L494.0 375.26 L494.5 375.60 L495.0 375.51 L495.5 376.19 L496.0 376.87 L496.5 377.18 L497.0 377.46 L497.5 377.30 L498.0 377.48 L498.5 377.70 L499.0 378.34 L499.5 379.32 L500.0 379.12 L500.5 379.40 L501.0 379.48 L501.5 378.32 L502.0 379.14 L502.5 379.20 L503.0 380.15 L503.5 380.53 L504.0 379.59 L504.5 380.08 L505.0 380.49 L505.5 380.13 L506.0 380.21 L506.5 380.33 L507.0 381.24 L507.5 380.48 L508.0 381.64 L508.5 381.23 L509.0 381.70 L509.5 382.23 L510.0 381.17 L510.5 381.19 L511.0 381.96 L511.5 381.25 L512.0 381.50 L512.5 381.93 L513.0 382.16 L513.5 381.41 L514.0 381.97 L514.5 382.60 L515.0 383.12 L515.5 381.14 L516.0 383.20 L516.5 382.98 L517.0 381.81 L517.5 381.61 L518.0 382.82 L518.5 382.35 L519.0 382.73 L519.5 383.22 L520.0 382.50 L520.5 382.87 L521.0 383.10 L521.5 383.40 L522.0 383.99 L522.5 383.99 L523.0 383.10 L523.5 382.84 L524.0 384.52 L524.5 383.46 L525.0 383.36 L525.5 382.42 L526.0 383.65 L526.5 382.68 L527.0 382.91 L527.5 382.38 L528.0 382.93 L528.5 383.33 L529.0 382.34 L529.5 382.76 L530.0 383.31 L530.5 382.56 L531.0 382.58 L531.5 382.88 L532.0 382.52 L532.5 383.87 L533.0 382.82 L533.5 384.01 L534.0 384.13 L534.5 382.72 L535.0 383.57 L535.5 383.23 L536.0 382.79 L536.5 383.34 L537.0 383.41 L537.5 384.07 L538.0 384.29 L538.5 382.84 L539.0 383.32 L539.5 383.97 L540.0 384.42 L540.5 381.90 L541.0 384.49 L541.5 383.48 L542.0 384.67 L542.5 383.30 L543.0 383.02 L543.5 383.63 L544.0 384.42 L544.5 383.62 L545.0 381.95 L545.5 384.08 L546.0 382.48 L546.5 382.92 L547.0 382.79 L547.5 382.31 L548.0 382.72 L548.5 382.91 L549.0 383.17 L549.5 383.56 L550.0 383.36 L550.5 382.56 L551.0 383.47 L551.5 384.28 L552.0 384.26 L552.5 383.69 L553.0 384.03 L553.5 384.22 L554.0 384.54 L554.5 384.78 L555.0 383.37 L555.5 383.40 L556.0 384.62 L556.5 384.68 L557.0 384.67 L557.5 381.95 L558.0 383.43 L558.5 381.31 L559.0 384.10 L559.5 383.63 L560.0 383.62 L560.5 383.49 L561.0 384.49 L561.5 383.38 L562.0 384.30 L562.5 383.97 L563.0 383.83 L563.5 383.90 L564.0 383.66 L564.5 382.82 L565.0 384.08 L565.5 384.08 L566.0 383.48 L566.5 384.09 L567.0 384.20 L567.5 382.68 L568.0 383.47 L568.5 383.26 L569.0 382.94 L569.5 383.80 L570.0 382.98 L570.5 383.27 L571.0 383.74 L571.5 383.81 L572.0 383.79 L572.5 385.12 L573.0 383.21 L573.5 383.74 L574.0 382.72 L574.5 383.90 L575.0 384.37 L575.5 384.41 L576.0 383.11 L576.5 383.36 L577.0 384.44 L577.5 383.49 L578.0 384.22 L578.5 382.87 L579.0 384.52 L579.5 384.27 L580.0 383.87 L580.5 382.99 L581.0 383.44 L581.5 383.65 L582.0 383.73 L582.5 383.47 L583.0 383.39 L583.5 383.68 L584.0 384.51 L584.5 382.14 L585.0 382.58 L585.5 382.46 L586.0 383.06 L586.5 382.32 L587.0 383.92 L587.5 383.60 L588.0 383.35 L588.5 383.05 L589.0 383.64 L589.5 383.65 L590.0 383.76 L590.5 383.02 L591.0 383.98 L591.5 382.50 L592.0 384.39 L592.5 381.37 L593.0 383.10 L593.5 382.68 L594.0 384.07 L594.5 382.48 L595.0 384.78 L595.5 382.43 L596.0 384.92 L596.5 383.82 L597.0 383.53 L597.5 383.81 L598.0 385.03 L598.5 384.13 L599.0 381.95 L599.5 384.33 L600.0 383.66 L600.5 382.37 L601.0 384.03 L601.5 382.65 L602.0 383.62 L602.5 383.66 L603.0 383.04 L603.5 383.94 L604.0 382.78 L604.5 383.62 L605.0 383.10 L605.5 383.36 L606.0 384.82 L606.5 383.56 L607.0 382.72 L607.5 383.39 L608.0 382.94 L608.5 383.49 L609.0 383.58 L609.5 383.53 L610.0 383.52 L610.5 383.08 L611.0 383.77 L611.5 384.19 L612.0 383.02 L612.5 383.41 L613.0 383.49 L613.5 384.32 L614.0 384.20 L614.5 382.94 L615.0 383.49 L615.5 382.40 L616.0 382.77 L616.5 383.44 L617.0 383.87 L617.5 384.09 L618.0 383.21 L618.5 382.48 L619.0 383.70 L619.5 383.30 L620.0 383.71 L620.5 383.52 L621.0 383.91 L621.5 383.86 L622.0 383.99 L622.5 383.08 L623.0 384.09 L623.5 383.05 L624.0 383.45 L624.5 384.68 L625.0 383.63 L625.5 382.57 L626.0 384.41 L626.5 384.07 L627.0 384.16 L627.5 383.51 L628.0 383.60 L628.5 383.20 L629.0 382.87 L629.5 384.41 L630.0 383.10 L630.5 383.01 L631.0 383.04 L631.5 384.63 L632.0 383.95 L632.5 383.08 L633.0 383.30 L633.5 383.68 L634.0 383.93 L634.5 382.20 L635.0 383.94 L635.5 383.16 L636.0 382.83 L636.5 383.03 L637.0 383.85 L637.5 384.51 L638.0 383.39 L638.5 383.67 L639.0 382.72 L639.5 383.62 L640.0 383.85 L640.5 382.24 L641.0 382.91 L641.5 383.81 L642.0 382.04 L642.5 383.00 L643.0 383.67 L643.5 382.08 L644.0 382.97 L644.5 383.28 L645.0 383.85 L645.5 382.35 L646.0 383.99 L646.5 383.43 L647.0 384.04 L647.5 384.02 L648.0 383.44 L648.5 383.54 L649.0 382.00 L649.5 382.26 L650.0 382.50 L650.5 382.95 L651.0 383.83 L651.5 381.95 L652.0 382.95 L652.5 382.26 L653.0 382.09 L653.5 384.18 L654.0 383.22 L654.5 384.28 L655.0 383.96 L655.5 382.51 L656.0 381.86 L656.5 384.56 L657.0 382.85 L657.5 382.33 L658.0 383.59 L658.5 383.21 L659.0 382.64 L659.5 382.86 L660.0 383.21 L660.5 383.14 L661.0 383.61 L661.5 382.84 L662.0 382.84 L662.5 383.49 L663.0 383.29 L663.5 383.82 L664.0 382.89 L664.5 382.99 L665.0 382.25 L665.5 384.08 L666.0 382.08 L666.5 383.17 L667.0 382.41 L667.5 383.26 L668.0 383.53 L668.5 381.88" stroke="#888888" stroke-width="0.85" fill="none" stroke-linejoin="round" stroke-opacity="1"/>
<path d="M7.0 377.94 L7.5 376.01 L8.0 379.95 L8.5 377.65 L9.0 376.23 L9.5 377.32 L10.0 379.83 L10.5 380.05 L11.0 379.78 L11.5 377.22 L12.0 378.00 L12.5 380.23 L13.0 377.28 L13.5 377.78 L14.0 377.00 L14.5 376.74 L15.0 379.70 L15.5 378.98 L16.0 378.75 L16.5 378.91 L17.0 379.46 L17.5 380.07 L18.0 378.18 L18.5 377.76 L19.0 376.91 L19.5 379.54 L20.0 377.54 L20.5 376.32 L21.0 377.85 L21.5 378.21 L22.0 379.22 L22.5 379.43 L23.0 377.27 L23.5 377.18 L24.0 377.77 L24.5 376.67 L25.0 378.04 L25.5 378.75 L26.0 378.23 L26.5 376.16 L27.0 376.69 L27.5 379.78 L28.0 376.91 L28.5 379.09 L29.0 378.96 L29.5 377.77 L30.0 376.93 L30.5 378.43 L31.0 377.06 L31.5 377.95 L32.0 378.30 L32.5 377.27 L33.0 377.88 L33.5 377.78 L34.0 376.62 L34.5 377.92 L35.0 377.37 L35.5 375.89 L36.0 377.74 L36.5 377.81 L37.0 377.40 L37.5 375.59 L38.0 379.12 L38.5 379.01 L39.0 378.96 L39.5 378.56 L40.0 376.58 L40.5 378.30 L41.0 376.99 L41.5 380.87 L42.0 377.50 L42.5 378.98 L43.0 376.21 L43.5 376.67 L44.0 377.47 L44.5 379.02 L45.0 378.82 L45.5 378.50 L46.0 375.83 L46.5 379.55 L47.0 376.98 L47.5 380.15 L48.0 380.46 L48.5 379.16 L49.0 379.36 L49.5 376.56 L50.0 381.34 L50.5 378.40 L51.0 379.37 L51.5 377.06 L52.0 378.04 L52.5 376.65 L53.0 377.82 L53.5 378.14 L54.0 378.44 L54.5 379.86 L55.0 378.72 L55.5 378.42 L56.0 378.16 L56.5 380.62 L57.0 377.39 L57.5 379.59 L58.0 375.67 L58.5 377.02 L59.0 378.62 L59.5 377.91 L60.0 381.85 L60.5 381.32 L61.0 376.21 L61.5 376.77 L62.0 377.92 L62.5 380.27 L63.0 379.51 L63.5 378.50 L64.0 376.33 L64.5 377.04 L65.0 374.75 L65.5 376.18 L66.0 378.62 L66.5 379.07 L67.0 376.47 L67.5 378.22 L68.0 380.11 L68.5 378.29 L69.0 377.70 L69.5 378.85 L70.0 378.74 L70.5 378.18 L71.0 377.42 L71.5 377.55 L72.0 378.19 L72.5 377.39 L73.0 379.74 L73.5 379.19 L74.0 379.43 L74.5 380.60 L75.0 380.04 L75.5 379.83 L76.0 378.53 L76.5 377.83 L77.0 380.93 L77.5 377.22 L78.0 377.29 L78.5 376.98 L79.0 378.33 L79.5 378.58 L80.0 379.34 L80.5 377.77 L81.0 375.89 L81.5 378.45 L82.0 379.26 L82.5 378.09 L83.0 377.88 L83.5 378.74 L84.0 379.82 L84.5 377.96 L85.0 376.27 L85.5 377.33 L86.0 377.83 L86.5 375.79 L87.0 378.99 L87.5 377.07 L88.0 378.66 L88.5 378.27 L89.0 377.64 L89.5 380.05 L90.0 377.32 L90.5 377.18 L91.0 378.38 L91.5 379.06 L92.0 378.01 L92.5 376.79 L93.0 378.87 L93.5 378.76 L94.0 380.59 L94.5 377.73 L95.0 378.27 L95.5 377.30 L96.0 376.15 L96.5 378.09 L97.0 379.05 L97.5 376.73 L98.0 377.15 L98.5 376.53 L99.0 379.66 L99.5 377.20 L100.0 378.71 L100.5 376.91 L101.0 378.08 L101.5 377.20 L102.0 375.06 L102.5 378.07 L103.0 378.63 L103.5 375.38 L104.0 377.75 L104.5 377.43 L105.0 376.63 L105.5 377.65 L106.0 375.55 L106.5 378.27 L107.0 379.44 L107.5 376.39 L108.0 377.88 L108.5 379.73 L109.0 378.11 L109.5 377.31 L110.0 376.82 L110.5 378.17 L111.0 377.78 L111.5 378.73 L112.0 376.05 L112.5 379.28 L113.0 377.44 L113.5 378.74 L114.0 377.04 L114.5 376.32 L115.0 377.23 L115.5 376.74 L116.0 377.46 L116.5 378.73 L117.0 379.27 L117.5 378.18 L118.0 377.25 L118.5 377.36 L119.0 378.65 L119.5 379.33 L120.0 377.51 L120.5 377.76 L121.0 376.98 L121.5 378.17 L122.0 379.10 L122.5 374.29 L123.0 378.22 L123.5 377.22 L124.0 375.01 L124.5 378.29 L125.0 377.78 L125.5 378.35 L126.0 376.19 L126.5 380.55 L127.0 378.03 L127.5 377.46 L128.0 379.78 L128.5 378.69 L129.0 378.92 L129.5 379.32 L130.0 375.30 L130.5 379.95 L131.0 377.44 L131.5 378.23 L132.0 379.02 L132.5 376.98 L133.0 378.26 L133.5 378.81 L134.0 377.81 L134.5 378.47 L135.0 375.86 L135.5 376.37 L136.0 376.42 L136.5 378.31 L137.0 382.50 L137.5 378.17 L138.0 377.66 L138.5 377.76 L139.0 379.06 L139.5 378.73 L140.0 376.41 L140.5 379.10 L141.0 377.81 L141.5 378.85 L142.0 375.35 L142.5 375.90 L143.0 378.57 L143.5 375.59 L144.0 378.31 L144.5 378.24 L145.0 378.00 L145.5 378.26 L146.0 378.15 L146.5 378.37 L147.0 377.31 L147.5 377.78 L148.0 381.45 L148.5 379.22 L149.0 378.56 L149.5 378.29 L150.0 376.90 L150.5 378.08 L151.0 377.49 L151.5 378.97 L152.0 376.65 L152.5 374.85 L153.0 377.09 L153.5 378.65 L154.0 380.84 L154.5 379.06 L155.0 376.56 L155.5 377.51 L156.0 376.59 L156.5 377.54 L157.0 376.66 L157.5 375.73 L158.0 378.32 L158.5 378.01 L159.0 377.55 L159.5 378.19 L160.0 380.29 L160.5 377.91 L161.0 377.29 L161.5 378.83 L162.0 375.71 L162.5 378.69 L163.0 376.79 L163.5 376.73 L164.0 377.88 L164.5 379.82 L165.0 376.82 L165.5 378.92 L166.0 378.21 L166.5 376.01 L167.0 378.87 L167.5 376.71 L168.0 375.90 L168.5 376.75 L169.0 376.82 L169.5 378.46 L170.0 376.81 L170.5 379.58 L171.0 377.99 L171.5 376.82 L172.0 376.68 L172.5 378.00 L173.0 375.19 L173.5 375.00 L174.0 376.61 L174.5 378.49 L175.0 377.93 L175.5 377.73 L176.0 377.43 L176.5 374.99 L177.0 377.29 L177.5 375.49 L178.0 378.73 L178.5 377.68 L179.0 377.58 L179.5 378.18 L180.0 378.08 L180.5 377.97 L181.0 378.11 L181.5 376.94 L182.0 376.02 L182.5 378.10 L183.0 379.47 L183.5 378.92 L184.0 377.40 L184.5 378.42 L185.0 377.11 L185.5 378.14 L186.0 376.90 L186.5 377.83 L187.0 380.14 L187.5 378.61 L188.0 379.51 L188.5 376.69 L189.0 376.79 L189.5 377.59 L190.0 378.33 L190.5 377.38 L191.0 378.89 L191.5 376.95 L192.0 379.32 L192.5 378.83 L193.0 376.24 L193.5 378.35 L194.0 377.34 L194.5 378.88 L195.0 376.95 L195.5 378.00 L196.0 378.29 L196.5 374.19 L197.0 375.27 L197.5 377.76 L198.0 377.44 L198.5 378.86 L199.0 377.88 L199.5 376.02 L200.0 378.00 L200.5 376.66 L201.0 377.30 L201.5 376.95 L202.0 378.01 L202.5 375.81 L203.0 376.18 L203.5 374.81 L204.0 380.23 L204.5 376.33 L205.0 376.49 L205.5 376.13 L206.0 376.76 L206.5 377.01 L207.0 378.31 L207.5 377.77 L208.0 377.95 L208.5 376.81 L209.0 377.45 L209.5 379.04 L210.0 377.50 L210.5 377.91 L211.0 375.01 L211.5 378.16 L212.0 377.84 L212.5 379.11 L213.0 374.11 L213.5 377.54 L214.0 377.35 L214.5 377.60 L215.0 376.71 L215.5 377.74 L216.0 378.35 L216.5 377.53 L217.0 377.11 L217.5 377.20 L218.0 376.98 L218.5 377.51 L219.0 376.56 L219.5 374.98 L220.0 379.12 L220.5 375.26 L221.0 377.29 L221.5 375.81 L222.0 377.07 L222.5 376.22 L223.0 377.36 L223.5 376.37 L224.0 375.80 L224.5 377.78 L225.0 379.04 L225.5 377.82 L226.0 377.52 L226.5 376.08 L227.0 377.27 L227.5 377.92 L228.0 376.56 L228.5 378.47 L229.0 377.30 L229.5 377.78 L230.0 376.73 L230.5 376.73 L231.0 377.61 L231.5 377.80 L232.0 377.75 L232.5 376.06 L233.0 376.41 L233.5 377.28 L234.0 375.01 L234.5 378.59 L235.0 377.68 L235.5 377.34 L236.0 376.40 L236.5 378.29 L237.0 376.93 L237.5 379.61 L238.0 377.75 L238.5 375.42 L239.0 378.15 L239.5 376.59 L240.0 376.60 L240.5 376.94 L241.0 377.07 L241.5 377.53 L242.0 378.16 L242.5 377.77 L243.0 376.32 L243.5 375.54 L244.0 376.20 L244.5 377.63 L245.0 378.25 L245.5 379.39 L246.0 375.52 L246.5 377.27 L247.0 376.88 L247.5 376.66 L248.0 377.32 L248.5 376.84 L249.0 376.81 L249.5 376.34 L250.0 377.61 L250.5 378.42 L251.0 379.12 L251.5 376.47 L252.0 375.81 L252.5 376.77 L253.0 376.07 L253.5 378.34 L254.0 376.07 L254.5 377.15 L255.0 375.42 L255.5 376.62 L256.0 377.27 L256.5 378.89 L257.0 376.18 L257.5 377.46 L258.0 374.48 L258.5 375.52 L259.0 375.99 L259.5 376.36 L260.0 377.47 L260.5 377.70 L261.0 374.99 L261.5 377.55 L262.0 375.56 L262.5 379.09 L263.0 377.25 L263.5 377.04 L264.0 376.63 L264.5 376.79 L265.0 376.82 L265.5 375.98 L266.0 377.68 L266.5 377.10 L267.0 377.65 L267.5 376.67 L268.0 377.54 L268.5 375.81 L269.0 380.94 L269.5 375.83 L270.0 376.13 L270.5 377.79 L271.0 378.10 L271.5 375.67 L272.0 374.62 L272.5 374.92 L273.0 375.38 L273.5 375.61 L274.0 376.33 L274.5 377.73 L275.0 377.77 L275.5 375.74 L276.0 377.09 L276.5 377.47 L277.0 378.07 L277.5 376.20 L278.0 375.49 L278.5 377.24 L279.0 378.12 L279.5 375.69 L280.0 378.59 L280.5 378.30 L281.0 375.94 L281.5 374.38 L282.0 375.51 L282.5 375.78 L283.0 376.80 L283.5 374.18 L284.0 378.99 L284.5 378.86 L285.0 375.23 L285.5 373.88 L286.0 375.84 L286.5 376.52 L287.0 377.58 L287.5 376.81 L288.0 375.72 L288.5 373.62 L289.0 376.51 L289.5 376.88 L290.0 375.50 L290.5 376.17 L291.0 376.06 L291.5 375.51 L292.0 374.42 L292.5 376.16 L293.0 374.07 L293.5 377.35 L294.0 374.63 L294.5 376.24 L295.0 374.79 L295.5 376.06 L296.0 375.35 L296.5 376.20 L297.0 374.62 L297.5 373.62 L298.0 375.18 L298.5 375.07 L299.0 373.70 L299.5 374.63 L300.0 373.45 L300.5 375.52 L301.0 374.93 L301.5 375.36 L302.0 378.35 L302.5 375.48 L303.0 375.71 L303.5 375.97 L304.0 375.06 L304.5 374.51 L305.0 376.19 L305.5 376.33 L306.0 371.74 L306.5 374.90 L307.0 374.67 L307.5 374.38 L308.0 376.43 L308.5 374.36 L309.0 375.94 L309.5 374.29 L310.0 374.42 L310.5 375.69 L311.0 373.98 L311.5 374.61 L312.0 373.50 L312.5 373.72 L313.0 375.52 L313.5 375.33 L314.0 373.33 L314.5 373.25 L315.0 377.46 L315.5 373.80 L316.0 373.51 L316.5 375.04 L317.0 373.55 L317.5 373.98 L318.0 375.36 L318.5 375.45 L319.0 374.06 L319.5 375.76 L320.0 374.05 L320.5 373.90 L321.0 374.13 L321.5 373.75 L322.0 374.66 L322.5 374.34 L323.0 373.12 L323.5 374.16 L324.0 373.31 L324.5 373.23 L325.0 373.69 L325.5 374.94 L326.0 374.07 L326.5 375.14 L327.0 375.42 L327.5 373.61 L328.0 372.93 L328.5 372.69 L329.0 373.82 L329.5 374.42 L330.0 375.16 L330.5 371.95 L331.0 374.33 L331.5 374.44 L332.0 375.85 L332.5 373.37 L333.0 373.08 L333.5 371.45 L334.0 372.18 L334.5 371.78 L335.0 371.82 L335.5 371.88 L336.0 371.16 L336.5 372.59 L337.0 373.00 L337.5 373.30 L338.0 372.36 L338.5 373.38 L339.0 373.28 L339.5 370.73 L340.0 371.79 L340.5 370.78 L341.0 370.92 L341.5 371.83 L342.0 371.42 L342.5 372.67 L343.0 373.02 L343.5 371.46 L344.0 370.78 L344.5 370.66 L345.0 370.62 L345.5 370.94 L346.0 369.69 L346.5 370.60 L347.0 369.75 L347.5 370.63 L348.0 370.69 L348.5 370.79 L349.0 369.09 L349.5 367.97 L350.0 367.52 L350.5 368.38 L351.0 367.33 L351.5 366.95 L352.0 367.67 L352.5 366.98 L353.0 367.90 L353.5 368.49 L354.0 366.72 L354.5 366.79 L355.0 365.26 L355.5 366.09 L356.0 365.21 L356.5 364.63 L357.0 363.85 L357.5 365.45 L358.0 363.28 L358.5 363.03 L359.0 363.08 L359.5 362.61 L360.0 361.99 L360.5 361.26 L361.0 360.17 L361.5 360.16 L362.0 359.22 L362.5 357.86 L363.0 358.38 L363.5 356.89 L364.0 356.73 L364.5 355.07 L365.0 354.48 L365.5 354.02 L366.0 353.26 L366.5 353.20 L367.0 351.44 L367.5 351.37 L368.0 350.16 L368.5 349.94 L369.0 349.03 L369.5 347.94 L370.0 348.10 L370.5 346.44 L371.0 345.97 L371.5 344.25 L372.0 343.73 L372.5 342.86 L373.0 341.91 L373.5 340.77 L374.0 339.62 L374.5 337.91 L375.0 337.66 L375.5 336.52 L376.0 335.67 L376.5 334.95 L377.0 334.30 L377.5 332.74 L378.0 331.81 L378.5 330.61 L379.0 329.54 L379.5 328.39 L380.0 327.03 L380.5 325.88 L381.0 324.92 L381.5 324.18 L382.0 322.74 L382.5 321.80 L383.0 319.83 L383.5 319.09 L384.0 317.94 L384.5 316.79 L385.0 315.07 L385.5 313.74 L386.0 312.45 L386.5 311.68 L387.0 311.17 L387.5 309.37 L388.0 307.74 L388.5 306.90 L389.0 305.48 L389.5 304.35 L390.0 302.93 L390.5 301.46 L391.0 300.41 L391.5 299.49 L392.0 298.14 L392.5 297.14 L393.0 295.29 L393.5 294.61 L394.0 293.10 L394.5 291.88 L395.0 290.90 L395.5 289.28 L396.0 288.11 L396.5 286.92 L397.0 285.63 L397.5 284.37 L398.0 283.17 L398.5 281.65 L399.0 280.07 L399.5 279.43 L400.0 277.45 L400.5 276.18 L401.0 274.53 L401.5 272.80 L402.0 271.76 L402.5 270.58 L403.0 269.30 L403.5 267.80 L404.0 266.60 L404.5 265.28 L405.0 263.93 L405.5 262.36 L406.0 261.08 L406.5 259.70 L407.0 258.24 L407.5 257.52 L408.0 255.53 L408.5 254.48 L409.0 253.18 L409.5 251.21 L410.0 250.42 L410.5 248.65 L411.0 247.18 L411.5 245.37 L412.0 243.27 L412.5 241.62 L413.0 239.61 L413.5 237.82 L414.0 235.87 L414.5 233.65 L415.0 232.43 L415.5 230.62 L416.0 228.89 L416.5 227.12 L417.0 225.17 L417.5 223.72 L418.0 221.84 L418.5 220.79 L419.0 218.43 L419.5 216.53 L420.0 214.92 L420.5 213.49 L421.0 211.29 L421.5 209.10 L422.0 208.00 L422.5 205.91 L423.0 203.88 L423.5 202.22 L424.0 200.03 L424.5 198.09 L425.0 196.61 L425.5 194.45 L426.0 192.78 L426.5 190.83 L427.0 189.16 L427.5 187.21 L428.0 184.98 L428.5 183.71 L429.0 181.69 L429.5 180.16 L430.0 178.23 L430.5 176.72 L431.0 174.61 L431.5 172.50 L432.0 171.10 L432.5 169.54 L433.0 167.64 L433.5 165.91 L434.0 164.61 L434.5 162.60 L435.0 161.18 L435.5 159.33 L436.0 157.35 L436.5 155.82 L437.0 154.32 L437.5 152.84 L438.0 150.99 L438.5 149.26 L439.0 147.75 L439.5 146.28 L440.0 144.62 L440.5 143.12 L441.0 142.09 L441.5 140.17 L442.0 138.35 L442.5 136.95 L443.0 135.71 L443.5 133.94 L444.0 132.22 L444.5 130.39 L445.0 128.79 L445.5 127.61 L446.0 126.21 L446.5 124.42 L447.0 123.11 L447.5 122.10 L448.0 120.24 L448.5 119.05 L449.0 118.17 L449.5 117.05 L450.0 115.75 L450.5 114.75 L451.0 113.80 L451.5 112.57 L452.0 111.24 L452.5 111.24 L453.0 110.33 L453.5 109.29 L454.0 107.87 L454.5 107.72 L455.0 105.94 L455.5 106.33 L456.0 104.48 L456.5 105.69 L457.0 106.62 L457.5 105.64 L458.0 106.82 L458.5 105.31 L459.0 105.28 L459.5 104.79 L460.0 105.58 L460.5 104.93 L461.0 106.43 L461.5 106.70 L462.0 105.42 L462.5 104.24 L463.0 105.81 L463.5 106.59 L464.0 106.29 L464.5 106.28 L465.0 106.99 L465.5 107.53 L466.0 105.10 L466.5 108.15 L467.0 107.97 L467.5 108.15 L468.0 107.98 L468.5 108.84 L469.0 109.49 L469.5 108.82 L470.0 110.46 L470.5 110.51 L471.0 111.73 L471.5 111.63 L472.0 111.48 L472.5 111.98 L473.0 112.70 L473.5 112.76 L474.0 113.36 L474.5 112.92 L475.0 112.91 L475.5 113.65 L476.0 113.39 L476.5 114.10 L477.0 115.15 L477.5 113.98 L478.0 114.48 L478.5 116.17 L479.0 115.42 L479.5 116.03 L480.0 115.26 L480.5 115.60 L481.0 116.37 L481.5 118.13 L482.0 117.34 L482.5 115.76 L483.0 117.69 L483.5 118.26 L484.0 118.23 L484.5 116.73 L485.0 117.88 L485.5 119.94 L486.0 117.40 L486.5 118.66 L487.0 117.82 L487.5 117.48 L488.0 118.36 L488.5 119.82 L489.0 120.06 L489.5 118.33 L490.0 118.83 L490.5 118.57 L491.0 117.59 L491.5 120.18 L492.0 121.18 L492.5 121.25 L493.0 119.54 L493.5 121.33 L494.0 121.22 L494.5 119.98 L495.0 120.40 L495.5 120.16 L496.0 120.84 L496.5 122.48 L497.0 119.89 L497.5 119.71 L498.0 121.85 L498.5 121.12 L499.0 119.22 L499.5 120.18 L500.0 120.43 L500.5 120.72 L501.0 121.76 L501.5 122.55 L502.0 121.36 L502.5 121.75 L503.0 120.83 L503.5 122.80 L504.0 123.21 L504.5 121.50 L505.0 121.02 L505.5 124.16 L506.0 122.95 L506.5 120.97 L507.0 120.12 L507.5 121.72 L508.0 123.43 L508.5 121.51 L509.0 121.88 L509.5 121.64 L510.0 122.97 L510.5 123.86 L511.0 120.85 L511.5 121.99 L512.0 122.12 L512.5 121.66 L513.0 121.02 L513.5 123.39 L514.0 122.64 L514.5 123.33 L515.0 124.29 L515.5 122.09 L516.0 123.18 L516.5 122.08 L517.0 122.47 L517.5 122.99 L518.0 122.42 L518.5 120.84 L519.0 124.44 L519.5 122.85 L520.0 121.33 L520.5 120.08 L521.0 122.69 L521.5 123.52 L522.0 123.96 L522.5 124.11 L523.0 122.34 L523.5 123.58 L524.0 120.98 L524.5 123.02 L525.0 123.95 L525.5 122.14 L526.0 122.69 L526.5 123.03 L527.0 123.08 L527.5 124.72 L528.0 121.64 L528.5 124.57 L529.0 121.46 L529.5 122.17 L530.0 122.05 L530.5 122.89 L531.0 122.41 L531.5 123.61 L532.0 123.04 L532.5 125.72 L533.0 123.52 L533.5 122.75 L534.0 123.52 L534.5 123.80 L535.0 122.84 L535.5 121.71 L536.0 122.10 L536.5 123.31 L537.0 124.13 L537.5 123.70 L538.0 123.00 L538.5 123.81 L539.0 122.50 L539.5 123.44 L540.0 124.89 L540.5 124.51 L541.0 124.81 L541.5 122.65 L542.0 123.37 L542.5 121.85 L543.0 124.26 L543.5 122.58 L544.0 121.46 L544.5 122.48 L545.0 123.42 L545.5 120.35 L546.0 121.34 L546.5 124.33 L547.0 123.22 L547.5 123.04 L548.0 121.09 L548.5 125.06 L549.0 124.37 L549.5 123.96 L550.0 121.70 L550.5 123.80 L551.0 124.50 L551.5 122.67 L552.0 122.77 L552.5 122.49 L553.0 123.81 L553.5 122.77 L554.0 122.67 L554.5 121.26 L555.0 121.00 L555.5 124.22 L556.0 125.00 L556.5 124.12 L557.0 124.80 L557.5 122.37 L558.0 122.98 L558.5 123.50 L559.0 122.83 L559.5 125.09 L560.0 121.38 L560.5 122.31 L561.0 122.58 L561.5 122.14 L562.0 124.05 L562.5 120.54 L563.0 124.41 L563.5 124.11 L564.0 123.38 L564.5 124.72 L565.0 125.89 L565.5 123.21 L566.0 123.88 L566.5 123.46 L567.0 123.62 L567.5 122.35 L568.0 122.08 L568.5 123.72 L569.0 122.32 L569.5 124.11 L570.0 123.94 L570.5 122.41 L571.0 123.40 L571.5 123.05 L572.0 122.78 L572.5 124.34 L573.0 122.99 L573.5 123.22 L574.0 120.54 L574.5 123.67 L575.0 121.15 L575.5 122.45 L576.0 124.90 L576.5 125.11 L577.0 122.43 L577.5 121.36 L578.0 123.39 L578.5 122.41 L579.0 123.31 L579.5 121.23 L580.0 124.26 L580.5 124.79 L581.0 121.09 L581.5 121.92 L582.0 122.01 L582.5 123.77 L583.0 120.44 L583.5 123.11 L584.0 122.57 L584.5 121.87 L585.0 123.71 L585.5 120.44 L586.0 121.15 L586.5 121.87 L587.0 123.70 L587.5 122.40 L588.0 121.80 L588.5 123.41 L589.0 122.22 L589.5 122.02 L590.0 122.43 L590.5 123.22 L591.0 126.13 L591.5 121.46 L592.0 123.14 L592.5 122.60 L593.0 122.47 L593.5 124.66 L594.0 123.74 L594.5 123.61 L595.0 122.22 L595.5 121.73 L596.0 123.14 L596.5 122.42 L597.0 122.06 L597.5 123.60 L598.0 121.28 L598.5 121.87 L599.0 123.74 L599.5 122.66 L600.0 123.59 L600.5 121.70 L601.0 123.63 L601.5 121.88 L602.0 124.43 L602.5 123.73 L603.0 123.32 L603.5 124.65 L604.0 123.18 L604.5 121.96 L605.0 124.66 L605.5 123.17 L606.0 124.25 L606.5 122.93 L607.0 124.17 L607.5 121.66 L608.0 121.17 L608.5 120.99 L609.0 123.67 L609.5 120.29 L610.0 120.52 L610.5 120.97 L611.0 123.01 L611.5 123.26 L612.0 121.71 L612.5 123.69 L613.0 123.11 L613.5 124.21 L614.0 123.87 L614.5 121.85 L615.0 122.95 L615.5 122.50 L616.0 123.27 L616.5 122.95 L617.0 122.73 L617.5 123.57 L618.0 122.77 L618.5 123.59 L619.0 122.73 L619.5 122.49 L620.0 123.82 L620.5 123.86 L621.0 124.21 L621.5 123.45 L622.0 122.41 L622.5 122.90 L623.0 122.86 L623.5 120.49 L624.0 121.27 L624.5 124.54 L625.0 122.58 L625.5 119.12 L626.0 122.50 L626.5 122.84 L627.0 121.12 L627.5 125.45 L628.0 124.03 L628.5 123.63 L629.0 122.39 L629.5 123.22 L630.0 123.66 L630.5 123.21 L631.0 121.79 L631.5 122.85 L632.0 122.77 L632.5 122.96 L633.0 121.31 L633.5 122.92 L634.0 122.59 L634.5 122.88 L635.0 122.83 L635.5 120.80 L636.0 123.63 L636.5 123.49 L637.0 120.90 L637.5 122.44 L638.0 121.50 L638.5 121.99 L639.0 123.78 L639.5 123.20 L640.0 124.98 L640.5 122.64 L641.0 121.14 L641.5 122.66 L642.0 119.49 L642.5 124.71 L643.0 122.82 L643.5 123.05 L644.0 122.67 L644.5 121.43 L645.0 122.33 L645.5 121.50 L646.0 121.83 L646.5 122.86 L647.0 120.96 L647.5 124.47 L648.0 121.11 L648.5 123.45 L649.0 121.63 L649.5 120.87 L650.0 122.88 L650.5 122.60 L651.0 122.11 L651.5 122.30 L652.0 121.60 L652.5 122.89 L653.0 121.76 L653.5 122.37 L654.0 123.71 L654.5 120.70 L655.0 121.62 L655.5 121.49 L656.0 121.33 L656.5 120.65 L657.0 121.97 L657.5 122.49 L658.0 122.15 L658.5 120.32 L659.0 123.12 L659.5 123.15 L660.0 122.36 L660.5 121.04 L661.0 121.21 L661.5 124.66 L662.0 124.38 L662.5 122.84 L663.0 121.12 L663.5 123.80 L664.0 122.46 L664.5 124.30 L665.0 121.53 L665.5 122.81 L666.0 121.97 L666.5 123.15 L667.0 121.44 L667.5 123.35 L668.0 121.74 L668.5 121.12" stroke="#b038b0" stroke-width="0.9" fill="none" stroke-linejoin="round" stroke-opacity="1"/>
<path d="M7.0 87.54 L7.5 87.34 L8.0 85.94 L8.5 87.17 L9.0 87.26 L9.5 87.31 L10.0 88.41 L10.5 86.81 L11.0 87.18 L11.5 86.18 L12.0 86.33 L12.5 86.85 L13.0 87.11 L13.5 87.07 L14.0 87.57 L14.5 87.62 L15.0 87.79 L15.5 87.09 L16.0 87.48 L16.5 86.76 L17.0 87.40 L17.5 87.47 L18.0 86.88 L18.5 85.26 L19.0 86.79 L19.5 88.71 L20.0 87.12 L20.5 86.80 L21.0 87.24 L21.5 87.84 L22.0 87.37 L22.5 87.05 L23.0 86.41 L23.5 86.99 L24.0 86.46 L24.5 87.38 L25.0 88.07 L25.5 87.80 L26.0 86.81 L26.5 86.58 L27.0 86.33 L27.5 87.43 L28.0 87.50 L28.5 87.63 L29.0 87.36 L29.5 86.44 L30.0 86.01 L30.5 87.82 L31.0 86.65 L31.5 88.29 L32.0 85.89 L32.5 86.49 L33.0 86.59 L33.5 87.30 L34.0 87.54 L34.5 86.81 L35.0 87.50 L35.5 86.36 L36.0 86.84 L36.5 86.42 L37.0 86.81 L37.5 86.75 L38.0 87.32 L38.5 89.19 L39.0 86.31 L39.5 87.01 L40.0 87.54 L40.5 87.17 L41.0 87.98 L41.5 86.52 L42.0 87.59 L42.5 86.66 L43.0 87.62 L43.5 87.23 L44.0 87.27 L44.5 86.77 L45.0 86.02 L45.5 86.46 L46.0 87.54 L46.5 86.96 L47.0 87.56 L47.5 86.33 L48.0 87.50 L48.5 87.72 L49.0 85.80 L49.5 87.31 L50.0 88.28 L50.5 86.66 L51.0 87.71 L51.5 87.14 L52.0 87.62 L52.5 86.88 L53.0 86.65 L53.5 86.86 L54.0 86.89 L54.5 86.76 L55.0 86.58 L55.5 87.77 L56.0 86.76 L56.5 86.39 L57.0 86.55 L57.5 87.40 L58.0 85.77 L58.5 87.40 L59.0 87.53 L59.5 87.87 L60.0 86.84 L60.5 86.61 L61.0 87.21 L61.5 87.19 L62.0 87.89 L62.5 87.13 L63.0 86.85 L63.5 86.30 L64.0 86.98 L64.5 87.15 L65.0 87.81 L65.5 87.16 L66.0 87.91 L66.5 87.84 L67.0 86.64 L67.5 86.42 L68.0 86.72 L68.5 86.96 L69.0 86.61 L69.5 87.51 L70.0 87.50 L70.5 87.82 L71.0 87.26 L71.5 86.83 L72.0 87.34 L72.5 86.55 L73.0 87.18 L73.5 86.64 L74.0 87.78 L74.5 85.50 L75.0 87.60 L75.5 87.62 L76.0 87.06 L76.5 87.29 L77.0 87.21 L77.5 87.86 L78.0 88.08 L78.5 87.09 L79.0 88.06 L79.5 86.70 L80.0 87.33 L80.5 87.34 L81.0 86.33 L81.5 87.28 L82.0 86.68 L82.5 87.55 L83.0 86.55 L83.5 86.02 L84.0 86.30 L84.5 87.09 L85.0 87.26 L85.5 87.28 L86.0 86.62 L86.5 87.55 L87.0 86.74 L87.5 86.94 L88.0 87.66 L88.5 86.97 L89.0 85.95 L89.5 87.50 L90.0 87.07 L90.5 86.84 L91.0 87.84 L91.5 86.69 L92.0 87.46 L92.5 87.15 L93.0 88.62 L93.5 85.99 L94.0 87.18 L94.5 87.27 L95.0 87.72 L95.5 86.81 L96.0 86.68 L96.5 87.89 L97.0 86.80 L97.5 87.22 L98.0 87.03 L98.5 87.29 L99.0 86.25 L99.5 86.73 L100.0 87.02 L100.5 87.12 L101.0 87.71 L101.5 87.36 L102.0 87.40 L102.5 87.02 L103.0 87.80 L103.5 86.69 L104.0 86.99 L104.5 86.16 L105.0 86.42 L105.5 87.55 L106.0 87.02 L106.5 85.93 L107.0 87.02 L107.5 86.90 L108.0 86.36 L108.5 87.24 L109.0 86.88 L109.5 87.05 L110.0 87.60 L110.5 86.67 L111.0 87.68 L111.5 86.88 L112.0 86.88 L112.5 87.81 L113.0 87.26 L113.5 86.79 L114.0 86.96 L114.5 87.16 L115.0 86.16 L115.5 87.43 L116.0 87.03 L116.5 86.26 L117.0 86.47 L117.5 87.55 L118.0 86.27 L118.5 88.31 L119.0 86.39 L119.5 87.15 L120.0 85.50 L120.5 86.98 L121.0 86.71 L121.5 87.31 L122.0 87.13 L122.5 86.82 L123.0 88.30 L123.5 87.48 L124.0 86.58 L124.5 87.22 L125.0 85.28 L125.5 86.66 L126.0 87.75 L126.5 86.67 L127.0 87.09 L127.5 86.31 L128.0 87.47 L128.5 87.07 L129.0 87.00 L129.5 87.56 L130.0 87.98 L130.5 87.47 L131.0 85.96 L131.5 87.23 L132.0 87.15 L132.5 86.30 L133.0 86.02 L133.5 86.74 L134.0 86.81 L134.5 86.94 L135.0 86.54 L135.5 87.08 L136.0 87.16 L136.5 86.81 L137.0 87.21 L137.5 86.63 L138.0 86.03 L138.5 86.97 L139.0 87.50 L139.5 88.59 L140.0 85.70 L140.5 86.67 L141.0 86.45 L141.5 87.13 L142.0 86.45 L142.5 87.05 L143.0 87.56 L143.5 86.52 L144.0 86.93 L144.5 87.94 L145.0 87.50 L145.5 86.00 L146.0 88.21 L146.5 86.56 L147.0 87.15 L147.5 86.72 L148.0 86.70 L148.5 86.55 L149.0 87.34 L149.5 86.51 L150.0 86.22 L150.5 86.63 L151.0 86.97 L151.5 85.77 L152.0 87.44 L152.5 86.54 L153.0 87.40 L153.5 87.80 L154.0 87.16 L154.5 87.29 L155.0 86.70 L155.5 86.57 L156.0 85.83 L156.5 86.85 L157.0 86.64 L157.5 85.55 L158.0 87.13 L158.5 87.88 L159.0 87.21 L159.5 87.66 L160.0 86.80 L160.5 86.36 L161.0 87.00 L161.5 86.76 L162.0 86.28 L162.5 87.58 L163.0 87.06 L163.5 86.57 L164.0 87.08 L164.5 86.87 L165.0 87.33 L165.5 87.92 L166.0 86.59 L166.5 86.25 L167.0 87.79 L167.5 88.40 L168.0 86.60 L168.5 86.42 L169.0 86.24 L169.5 86.96 L170.0 87.03 L170.5 86.81 L171.0 87.46 L171.5 86.47 L172.0 86.61 L172.5 86.21 L173.0 87.79 L173.5 87.61 L174.0 87.75 L174.5 86.46 L175.0 87.76 L175.5 87.14 L176.0 87.39 L176.5 87.31 L177.0 86.77 L177.5 86.86 L178.0 86.04 L178.5 86.64 L179.0 86.83 L179.5 86.27 L180.0 87.02 L180.5 87.73 L181.0 86.67 L181.5 86.39 L182.0 86.45 L182.5 87.08 L183.0 88.01 L183.5 87.06 L184.0 87.00 L184.5 86.22 L185.0 87.16 L185.5 87.34 L186.0 86.72 L186.5 86.95 L187.0 86.57 L187.5 87.40 L188.0 87.76 L188.5 87.19 L189.0 87.27 L189.5 87.00 L190.0 86.58 L190.5 86.50 L191.0 86.72 L191.5 87.03 L192.0 86.96 L192.5 87.57 L193.0 87.41 L193.5 87.85 L194.0 87.43 L194.5 86.82 L195.0 87.02 L195.5 85.99 L196.0 87.96 L196.5 86.61 L197.0 86.72 L197.5 88.05 L198.0 86.32 L198.5 86.59 L199.0 86.92 L199.5 86.62 L200.0 87.02 L200.5 87.11 L201.0 87.34 L201.5 86.90 L202.0 87.38 L202.5 86.76 L203.0 87.33 L203.5 87.67 L204.0 85.93 L204.5 86.83 L205.0 87.07 L205.5 85.84 L206.0 85.14 L206.5 87.15 L207.0 86.58 L207.5 87.43 L208.0 86.96 L208.5 86.95 L209.0 86.75 L209.5 87.02 L210.0 86.42 L210.5 86.66 L211.0 87.43 L211.5 86.81 L212.0 87.26 L212.5 86.96 L213.0 86.76 L213.5 86.38 L214.0 87.46 L214.5 86.47 L215.0 87.18 L215.5 86.03 L216.0 87.12 L216.5 87.19 L217.0 86.58 L217.5 85.99 L218.0 86.87 L218.5 87.02 L219.0 86.65 L219.5 86.55 L220.0 87.50 L220.5 86.89 L221.0 86.71 L221.5 87.46 L222.0 86.95 L222.5 86.54 L223.0 87.48 L223.5 86.74 L224.0 87.51 L224.5 86.56 L225.0 87.15 L225.5 87.69 L226.0 87.23 L226.5 87.25 L227.0 87.22 L227.5 87.47 L228.0 87.00 L228.5 87.22 L229.0 86.82 L229.5 88.10 L230.0 86.43 L230.5 87.45 L231.0 86.37 L231.5 87.27 L232.0 87.74 L232.5 86.31 L233.0 88.00 L233.5 86.38 L234.0 86.47 L234.5 87.15 L235.0 86.30 L235.5 87.53 L236.0 87.24 L236.5 85.34 L237.0 86.11 L237.5 86.52 L238.0 87.20 L238.5 86.32 L239.0 86.52 L239.5 87.32 L240.0 86.36 L240.5 87.12 L241.0 86.14 L241.5 87.54 L242.0 87.79 L242.5 86.27 L243.0 85.55 L243.5 85.95 L244.0 87.51 L244.5 86.60 L245.0 87.56 L245.5 86.15 L246.0 86.38 L246.5 86.87 L247.0 87.57 L247.5 86.81 L248.0 86.33 L248.5 87.11 L249.0 86.99 L249.5 87.23 L250.0 86.83 L250.5 86.57 L251.0 86.95 L251.5 85.47 L252.0 87.09 L252.5 87.66 L253.0 87.26 L253.5 86.37 L254.0 86.03 L254.5 87.71 L255.0 86.63 L255.5 86.81 L256.0 87.06 L256.5 86.58 L257.0 86.95 L257.5 87.82 L258.0 86.64 L258.5 88.06 L259.0 87.16 L259.5 87.12 L260.0 87.49 L260.5 87.47 L261.0 87.55 L261.5 87.26 L262.0 86.58 L262.5 87.89 L263.0 86.84 L263.5 86.43 L264.0 87.46 L264.5 87.31 L265.0 86.91 L265.5 86.97 L266.0 87.27 L266.5 88.06 L267.0 86.88 L267.5 86.18 L268.0 86.59 L268.5 87.23 L269.0 86.80 L269.5 86.53 L270.0 87.35 L270.5 87.36 L271.0 86.80 L271.5 87.09 L272.0 86.54 L272.5 86.56 L273.0 86.72 L273.5 86.11 L274.0 87.12 L274.5 86.87 L275.0 86.61 L275.5 86.97 L276.0 86.99 L276.5 86.47 L277.0 86.56 L277.5 86.44 L278.0 87.70 L278.5 85.91 L279.0 86.85 L279.5 87.39 L280.0 86.25 L280.5 86.32 L281.0 86.31 L281.5 85.82 L282.0 87.58 L282.5 86.73 L283.0 86.21 L283.5 86.48 L284.0 86.95 L284.5 86.65 L285.0 86.31 L285.5 87.14 L286.0 86.31 L286.5 86.60 L287.0 86.93 L287.5 86.40 L288.0 86.87 L288.5 86.45 L289.0 88.40 L289.5 86.58 L290.0 87.23 L290.5 86.31 L291.0 86.16 L291.5 86.74 L292.0 86.61 L292.5 86.61 L293.0 86.79 L293.5 87.33 L294.0 87.94 L294.5 88.00 L295.0 86.84 L295.5 87.88 L296.0 87.81 L296.5 86.43 L297.0 86.51 L297.5 86.73 L298.0 87.95 L298.5 86.70 L299.0 86.64 L299.5 87.60 L300.0 86.67 L300.5 86.68 L301.0 87.13 L301.5 86.87 L302.0 85.34 L302.5 86.03 L303.0 87.18 L303.5 85.91 L304.0 87.48 L304.5 86.71 L305.0 86.90 L305.5 86.91 L306.0 85.69 L306.5 86.32 L307.0 86.12 L307.5 86.87 L308.0 87.62 L308.5 86.59 L309.0 86.76 L309.5 85.57 L310.0 86.49 L310.5 86.57 L311.0 86.59 L311.5 87.05 L312.0 87.51 L312.5 86.68 L313.0 86.91 L313.5 85.77 L314.0 87.03 L314.5 86.69 L315.0 85.64 L315.5 86.85 L316.0 86.27 L316.5 87.23 L317.0 86.90 L317.5 86.68 L318.0 87.62 L318.5 86.52 L319.0 86.43 L319.5 86.62 L320.0 86.66 L320.5 86.09 L321.0 86.91 L321.5 86.81 L322.0 86.26 L322.5 85.65 L323.0 87.24 L323.5 87.30 L324.0 87.05 L324.5 87.10 L325.0 87.56 L325.5 86.71 L326.0 87.45 L326.5 86.42 L327.0 86.00 L327.5 86.50 L328.0 86.31 L328.5 86.76 L329.0 87.51 L329.5 86.70 L330.0 87.04 L330.5 87.64 L331.0 87.42 L331.5 86.45 L332.0 86.00 L332.5 87.50 L333.0 85.73 L333.5 85.30 L334.0 85.18 L334.5 86.81 L335.0 85.38 L335.5 85.96 L336.0 85.98 L336.5 86.66 L337.0 85.24 L337.5 85.91 L338.0 85.98 L338.5 86.47 L339.0 85.58 L339.5 85.78 L340.0 85.44 L340.5 86.06 L341.0 85.92 L341.5 85.19 L342.0 85.59 L342.5 84.51 L343.0 85.22 L343.5 84.68 L344.0 84.85 L344.5 85.50 L345.0 86.02 L345.5 84.98 L346.0 84.74 L346.5 84.58 L347.0 85.06 L347.5 84.53 L348.0 85.04 L348.5 85.25 L349.0 84.73 L349.5 84.16 L350.0 84.65 L350.5 83.86 L351.0 83.27 L351.5 84.61 L352.0 84.91 L352.5 84.54 L353.0 83.65 L353.5 82.12 L354.0 83.30 L354.5 83.86 L355.0 83.29 L355.5 84.03 L356.0 82.91 L356.5 83.42 L357.0 83.19 L357.5 83.11 L358.0 82.25 L358.5 82.73 L359.0 82.78 L359.5 82.38 L360.0 81.86 L360.5 82.09 L361.0 81.76 L361.5 82.17 L362.0 82.27 L362.5 81.85 L363.0 81.70 L363.5 81.31 L364.0 81.28 L364.5 80.27 L365.0 80.86 L365.5 80.98 L366.0 80.25 L366.5 80.51 L367.0 79.48 L367.5 79.86 L368.0 79.56 L368.5 79.59 L369.0 79.26 L369.5 79.80 L370.0 77.61 L370.5 78.02 L371.0 78.09 L371.5 78.14 L372.0 77.66 L372.5 77.42 L373.0 76.88 L373.5 76.74 L374.0 76.70 L374.5 77.35 L375.0 76.29 L375.5 77.35 L376.0 76.52 L376.5 75.81 L377.0 75.97 L377.5 75.81 L378.0 74.79 L378.5 74.41 L379.0 75.26 L379.5 74.17 L380.0 74.56 L380.5 74.25 L381.0 73.19 L381.5 73.74 L382.0 73.46 L382.5 73.46 L383.0 72.75 L383.5 72.66 L384.0 72.38 L384.5 71.91 L385.0 72.28 L385.5 71.79 L386.0 71.71 L386.5 71.05 L387.0 71.05 L387.5 70.07 L388.0 69.91 L388.5 70.17 L389.0 69.49 L389.5 69.16 L390.0 69.06 L390.5 68.21 L391.0 68.49 L391.5 68.31 L392.0 67.76 L392.5 67.21 L393.0 67.83 L393.5 67.11 L394.0 66.35 L394.5 66.18 L395.0 65.56 L395.5 65.21 L396.0 64.85 L396.5 64.88 L397.0 64.95 L397.5 64.74 L398.0 64.15 L398.5 64.18 L399.0 63.72 L399.5 62.87 L400.0 62.64 L400.5 62.66 L401.0 62.45 L401.5 62.24 L402.0 61.17 L402.5 60.67 L403.0 61.52 L403.5 60.50 L404.0 60.54 L404.5 59.91 L405.0 59.15 L405.5 59.62 L406.0 58.99 L406.5 58.93 L407.0 58.31 L407.5 57.49 L408.0 57.40 L408.5 57.34 L409.0 56.48 L409.5 56.36 L410.0 56.27 L410.5 55.21 L411.0 55.08 L411.5 54.86 L412.0 54.70 L412.5 54.03 L413.0 53.47 L413.5 53.45 L414.0 52.74 L414.5 52.65 L415.0 52.24 L415.5 51.71 L416.0 51.62 L416.5 51.32 L417.0 50.24 L417.5 50.37 L418.0 49.80 L418.5 49.38 L419.0 49.10 L419.5 49.01 L420.0 48.26 L420.5 47.82 L421.0 47.16 L421.5 47.07 L422.0 46.72 L422.5 46.06 L423.0 45.83 L423.5 45.65 L424.0 45.49 L424.5 44.64 L425.0 44.85 L425.5 44.18 L426.0 43.74 L426.5 43.27 L427.0 42.73 L427.5 42.13 L428.0 41.89 L428.5 41.52 L429.0 41.15 L429.5 41.14 L430.0 40.87 L430.5 40.08 L431.0 39.82 L431.5 38.96 L432.0 38.21 L432.5 38.36 L433.0 38.08 L433.5 38.02 L434.0 37.91 L434.5 36.92 L435.0 36.81 L435.5 36.36 L436.0 35.71 L436.5 35.48 L437.0 34.96 L437.5 34.89 L438.0 33.78 L438.5 33.04 L439.0 33.35 L439.5 33.21 L440.0 32.89 L440.5 32.07 L441.0 32.07 L441.5 31.38 L442.0 31.50 L442.5 30.75 L443.0 30.36 L443.5 30.78 L444.0 29.78 L444.5 29.43 L445.0 29.91 L445.5 29.43 L446.0 28.31 L446.5 29.49 L447.0 28.30 L447.5 28.58 L448.0 28.79 L448.5 29.84 L449.0 29.05 L449.5 29.58 L450.0 29.42 L450.5 29.89 L451.0 29.56 L451.5 30.31 L452.0 30.44 L452.5 30.75 L453.0 31.59 L453.5 32.36 L454.0 32.96 L454.5 33.60 L455.0 34.61 L455.5 35.15 L456.0 36.24 L456.5 37.10 L457.0 37.82 L457.5 38.66 L458.0 39.62 L458.5 40.44 L459.0 41.45 L459.5 42.56 L460.0 43.14 L460.5 44.62 L461.0 45.50 L461.5 46.46 L462.0 47.27 L462.5 48.34 L463.0 49.33 L463.5 50.55 L464.0 51.59 L464.5 52.74 L465.0 53.65 L465.5 54.42 L466.0 55.62 L466.5 56.74 L467.0 57.84 L467.5 58.51 L468.0 59.63 L468.5 60.53 L469.0 61.26 L469.5 62.16 L470.0 63.40 L470.5 63.79 L471.0 64.92 L471.5 65.35 L472.0 65.90 L472.5 66.84 L473.0 67.33 L473.5 68.05 L474.0 68.21 L474.5 69.36 L475.0 69.74 L475.5 70.70 L476.0 71.04 L476.5 71.48 L477.0 71.86 L477.5 72.64 L478.0 73.06 L478.5 73.47 L479.0 74.60 L479.5 74.59 L480.0 75.31 L480.5 75.91 L481.0 76.08 L481.5 76.57 L482.0 76.95 L482.5 77.48 L483.0 77.76 L483.5 78.12 L484.0 78.39 L484.5 78.57 L485.0 78.94 L485.5 79.23 L486.0 79.81 L486.5 80.48 L487.0 80.12 L487.5 80.54 L488.0 80.72 L488.5 81.31 L489.0 81.94 L489.5 81.77 L490.0 82.25 L490.5 81.61 L491.0 82.59 L491.5 83.04 L492.0 82.86 L492.5 82.69 L493.0 83.67 L493.5 83.65 L494.0 84.57 L494.5 83.84 L495.0 84.18 L495.5 84.27 L496.0 84.62 L496.5 84.01 L497.0 85.45 L497.5 85.31 L498.0 85.11 L498.5 85.19 L499.0 85.70 L499.5 85.77 L500.0 85.57 L500.5 85.80 L501.0 86.15 L501.5 85.94 L502.0 86.10 L502.5 86.18 L503.0 86.32 L503.5 86.03 L504.0 86.30 L504.5 86.99 L505.0 87.29 L505.5 87.02 L506.0 85.53 L506.5 86.58 L507.0 87.54 L507.5 88.23 L508.0 88.10 L508.5 87.54 L509.0 87.55 L509.5 87.60 L510.0 88.72 L510.5 88.07 L511.0 87.58 L511.5 88.57 L512.0 88.57 L512.5 87.19 L513.0 87.95 L513.5 88.84 L514.0 88.84 L514.5 87.80 L515.0 88.49 L515.5 88.99 L516.0 88.77 L516.5 88.11 L517.0 88.61 L517.5 89.10 L518.0 89.06 L518.5 88.36 L519.0 90.12 L519.5 89.07 L520.0 88.21 L520.5 88.87 L521.0 87.65 L521.5 88.77 L522.0 89.15 L522.5 90.49 L523.0 89.35 L523.5 89.48 L524.0 89.72 L524.5 89.46 L525.0 89.04 L525.5 90.14 L526.0 89.71 L526.5 90.30 L527.0 90.04 L527.5 88.95 L528.0 89.23 L528.5 89.27 L529.0 89.29 L529.5 89.78 L530.0 89.42 L530.5 89.05 L531.0 90.39 L531.5 90.33 L532.0 89.55 L532.5 88.90 L533.0 89.16 L533.5 89.08 L534.0 89.00 L534.5 88.95 L535.0 89.67 L535.5 89.70 L536.0 89.78 L536.5 88.98 L537.0 89.70 L537.5 90.70 L538.0 89.67 L538.5 89.30 L539.0 91.13 L539.5 89.71 L540.0 89.16 L540.5 90.05 L541.0 89.11 L541.5 89.32 L542.0 90.12 L542.5 89.17 L543.0 88.66 L543.5 89.94 L544.0 90.02 L544.5 88.72 L545.0 89.32 L545.5 90.17 L546.0 89.68 L546.5 90.02 L547.0 89.46 L547.5 89.16 L548.0 89.21 L548.5 89.35 L549.0 89.64 L549.5 87.95 L550.0 88.41 L550.5 89.54 L551.0 89.93 L551.5 89.15 L552.0 89.54 L552.5 88.91 L553.0 88.73 L553.5 89.63 L554.0 89.50 L554.5 89.24 L555.0 88.78 L555.5 89.58 L556.0 89.50 L556.5 89.39 L557.0 89.47 L557.5 89.32 L558.0 89.84 L558.5 89.77 L559.0 90.58 L559.5 90.36 L560.0 89.51 L560.5 88.81 L561.0 89.90 L561.5 89.18 L562.0 90.42 L562.5 88.66 L563.0 89.28 L563.5 90.43 L564.0 89.53 L564.5 89.95 L565.0 89.91 L565.5 89.24 L566.0 90.01 L566.5 89.02 L567.0 89.33 L567.5 90.76 L568.0 89.41 L568.5 89.74 L569.0 88.90 L569.5 90.30 L570.0 88.98 L570.5 89.09 L571.0 89.17 L571.5 88.97 L572.0 88.69 L572.5 89.34 L573.0 89.23 L573.5 89.45 L574.0 88.94 L574.5 88.98 L575.0 89.32 L575.5 89.51 L576.0 88.97 L576.5 89.48 L577.0 89.37 L577.5 90.12 L578.0 89.87 L578.5 89.79 L579.0 90.09 L579.5 89.13 L580.0 90.29 L580.5 89.61 L581.0 89.21 L581.5 89.73 L582.0 88.88 L582.5 90.53 L583.0 89.65 L583.5 88.63 L584.0 88.84 L584.5 89.20 L585.0 89.17 L585.5 89.76 L586.0 90.01 L586.5 90.09 L587.0 89.81 L587.5 88.95 L588.0 90.14 L588.5 90.21 L589.0 88.36 L589.5 89.16 L590.0 89.28 L590.5 89.04 L591.0 90.09 L591.5 89.75 L592.0 89.52 L592.5 88.78 L593.0 88.29 L593.5 88.94 L594.0 89.00 L594.5 88.96 L595.0 88.25 L595.5 88.59 L596.0 89.22 L596.5 89.67 L597.0 89.16 L597.5 89.33 L598.0 89.43 L598.5 89.43 L599.0 90.16 L599.5 89.00 L600.0 89.58 L600.5 88.69 L601.0 90.15 L601.5 89.89 L602.0 90.04 L602.5 89.53 L603.0 89.39 L603.5 88.72 L604.0 89.64 L604.5 90.25 L605.0 87.85 L605.5 90.48 L606.0 88.98 L606.5 89.73 L607.0 88.98 L607.5 89.37 L608.0 89.93 L608.5 89.35 L609.0 90.51 L609.5 89.48 L610.0 89.83 L610.5 89.09 L611.0 89.16 L611.5 89.22 L612.0 89.74 L612.5 90.42 L613.0 89.47 L613.5 88.70 L614.0 89.09 L614.5 88.65 L615.0 89.73 L615.5 89.46 L616.0 88.82 L616.5 89.23 L617.0 89.99 L617.5 89.71 L618.0 89.11 L618.5 89.88 L619.0 89.67 L619.5 89.12 L620.0 89.54 L620.5 90.53 L621.0 88.79 L621.5 90.03 L622.0 89.35 L622.5 89.80 L623.0 89.66 L623.5 89.59 L624.0 89.34 L624.5 89.43 L625.0 89.82 L625.5 89.69 L626.0 88.57 L626.5 89.69 L627.0 90.18 L627.5 89.94 L628.0 89.54 L628.5 88.35 L629.0 89.76 L629.5 89.80 L630.0 90.27 L630.5 88.86 L631.0 89.27 L631.5 89.10 L632.0 89.25 L632.5 88.40 L633.0 89.13 L633.5 89.15 L634.0 89.18 L634.5 90.33 L635.0 89.03 L635.5 89.14 L636.0 90.05 L636.5 89.06 L637.0 90.09 L637.5 89.65 L638.0 89.02 L638.5 88.97 L639.0 89.46 L639.5 89.27 L640.0 89.44 L640.5 89.04 L641.0 89.72 L641.5 88.98 L642.0 89.10 L642.5 89.27 L643.0 88.64 L643.5 89.18 L644.0 89.25 L644.5 88.52 L645.0 88.32 L645.5 90.09 L646.0 89.20 L646.5 89.28 L647.0 88.99 L647.5 90.28 L648.0 89.23 L648.5 88.31 L649.0 89.64 L649.5 88.78 L650.0 89.60 L650.5 89.27 L651.0 90.09 L651.5 89.62 L652.0 89.12 L652.5 90.18 L653.0 90.94 L653.5 89.03 L654.0 89.98 L654.5 89.56 L655.0 89.61 L655.5 88.62 L656.0 88.77 L656.5 90.17 L657.0 89.43 L657.5 89.03 L658.0 90.39 L658.5 90.05 L659.0 89.77 L659.5 88.76 L660.0 89.33 L660.5 90.19 L661.0 88.14 L661.5 88.39 L662.0 88.86 L662.5 89.90 L663.0 89.46 L663.5 89.60 L664.0 89.44 L664.5 89.38 L665.0 90.03 L665.5 91.44 L666.0 89.59 L666.5 90.09 L667.0 89.06 L667.5 90.26 L668.0 89.37 L668.5 89.42" stroke="#34348c" stroke-width="1.0" fill="none" stroke-linejoin="round" stroke-opacity="1"/>
<rect x="2.6" y="2.6" width="669.1999999999999" height="2.0" fill="url(#gt)"/>
<rect x="669.6" y="2.6" width="2.2" height="423.2" fill="url(#gr)"/>
<rect x="1.8" y="2.6" width="2.8" height="423.2" fill="url(#gl)"/>
<rect x="1.8" y="423.3" width="670.0" height="2.5" fill="url(#gb)"/>
<path d="M7 84.8 L12.5 87.5 L7 90.2Z" fill="#b8b8e8"/>
<circle cx="1.2" cy="87.5" r="5.6" fill="#fff" stroke="#223" stroke-width="1"/>
<path d="M7 378.8 L12.5 381.5 L7 384.2Z" fill="#e8c0e8"/>
<circle cx="1" cy="381.5" r="5.7" fill="#fff" stroke="#5a2a00" stroke-width="1.2"/>
<path d="M531 46.8 L535 44.8 L535 48.8 Z M534.5 46.8 H539.5" fill="#1a6a1a" stroke="#1a6a1a" stroke-width="1"/>
</svg>
<div class="mk" style="left:0.5px;top:82.5px;">2</div>
<div class="mk" style="left:0px;top:376.5px;">3</div>
<div class="box" id="title"><div class="ln" style="top:5.6px">TURN OFF</div><div class="ln" style="top:28.7px">SiC MOSFET</div></div>
<div class="box" id="cond"><div class="ln" style="top:6.0px">T<sub>J</sub> = 150 ºC</div><div class="ln" style="top:29.0px">V<sub>GS</sub> = +18/-5 V</div><div class="ln" style="top:51.6px">dV<sub>OFF</sub>/dt ~ 5 V/ns</div></div>
<div class="box" id="eoff"><div class="ln" style="top:5.8px">E<sub>OFF</sub> = 3.08 mJ</div></div>
<div class="box" id="b1"><div class="ln" style="top:6.0px">I<sub>D</sub> = 20 A/div</div></div>
<div class="box" id="b2"><div class="ln" style="top:6.0px">V<sub>DS</sub> = 100 V/div</div></div>
<div class="box" id="b3"><div class="ln" style="top:6.0px">E<sub>OFF</sub> = <span style="font-weight:normal;-webkit-text-stroke:0">∫</span> V<sub>DS</sub>*I<sub>D</sub>*t</div></div>
<div class="box" id="b4"><div class="ln" style="top:6.0px">Time = 100 ns/div</div></div>
<div id="wmband"></div>
<div id="wm">www.cntronics.com</div>
</body></html>
